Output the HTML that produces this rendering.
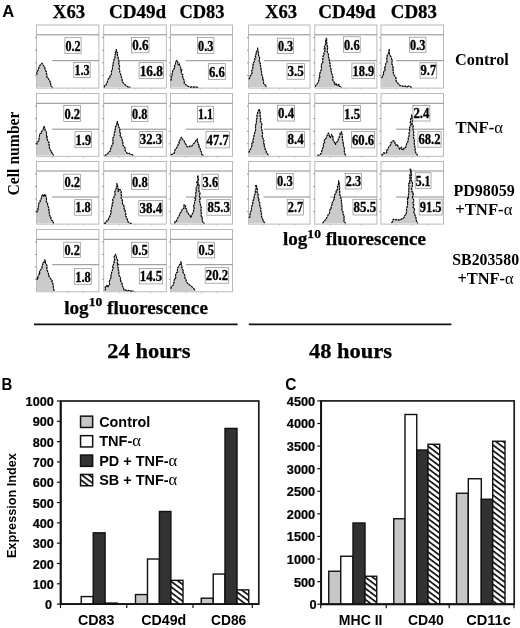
<!DOCTYPE html>
<html><head><meta charset="utf-8"><title>Figure</title>
<style>html,body{margin:0;padding:0;background:#fff;}body{width:520px;height:628px;overflow:hidden;font-family:"Liberation Sans",sans-serif;}</style></head>
<body>
<svg width="520" height="628" viewBox="0 0 520 628" style="display:block;will-change:transform;opacity:0.999">
<rect width="520" height="628" fill="#fff"/>
<defs><pattern id="hz" patternUnits="userSpaceOnUse" width="4.45" height="4.45" patternTransform="rotate(37)"><rect width="4.45" height="4.45" fill="#fff"/><rect x="0" y="0" width="4.45" height="1.7" fill="#111"/></pattern></defs>
<text x="2.20" y="17.10" font-family="Liberation Sans, sans-serif" font-weight="bold" font-size="16.5" textLength="12.00" lengthAdjust="spacingAndGlyphs" fill="#000" >A</text>
<text x="52.80" y="17.80" font-family="Liberation Serif, serif" font-weight="bold" font-size="18.6" textLength="32.40" lengthAdjust="spacingAndGlyphs" fill="#000" stroke="#000" stroke-width="0.25">X63</text>
<text x="109.00" y="17.80" font-family="Liberation Serif, serif" font-weight="bold" font-size="18.6" textLength="57.20" lengthAdjust="spacingAndGlyphs" fill="#000" stroke="#000" stroke-width="0.25">CD49d</text>
<text x="179.40" y="17.80" font-family="Liberation Serif, serif" font-weight="bold" font-size="18.6" textLength="45.20" lengthAdjust="spacingAndGlyphs" fill="#000" stroke="#000" stroke-width="0.25">CD83</text>
<text x="265.00" y="17.80" font-family="Liberation Serif, serif" font-weight="bold" font-size="18.6" textLength="32.20" lengthAdjust="spacingAndGlyphs" fill="#000" stroke="#000" stroke-width="0.25">X63</text>
<text x="318.30" y="17.80" font-family="Liberation Serif, serif" font-weight="bold" font-size="18.6" textLength="57.30" lengthAdjust="spacingAndGlyphs" fill="#000" stroke="#000" stroke-width="0.25">CD49d</text>
<text x="390.80" y="17.80" font-family="Liberation Serif, serif" font-weight="bold" font-size="18.6" textLength="46.20" lengthAdjust="spacingAndGlyphs" fill="#000" stroke="#000" stroke-width="0.25">CD83</text>
<g transform="translate(19,195.5) rotate(-90)">
<text x="0.00" y="0.00" font-family="Liberation Serif, serif" font-weight="bold" font-size="16.3" textLength="84.00" lengthAdjust="spacingAndGlyphs" fill="#000" >Cell number</text>
</g>
<rect x="36.60" y="25.00" width="62.30" height="63.10" fill="#fff" stroke="#b2b2b2" stroke-width="0.9"/>
<line x1="35.00" y1="75.48" x2="36.60" y2="75.48" stroke="#8a8a8a" stroke-width="0.9"/>
<line x1="35.00" y1="62.86" x2="36.60" y2="62.86" stroke="#8a8a8a" stroke-width="0.9"/>
<line x1="35.00" y1="50.24" x2="36.60" y2="50.24" stroke="#8a8a8a" stroke-width="0.9"/>
<line x1="35.00" y1="37.62" x2="36.60" y2="37.62" stroke="#8a8a8a" stroke-width="0.9"/>
<line x1="52.17" y1="88.10" x2="52.17" y2="89.60" stroke="#b2b2b2" stroke-width="0.8"/>
<line x1="67.75" y1="88.10" x2="67.75" y2="89.60" stroke="#b2b2b2" stroke-width="0.8"/>
<line x1="83.32" y1="88.10" x2="83.32" y2="89.60" stroke="#b2b2b2" stroke-width="0.8"/>
<line x1="36.60" y1="34.80" x2="98.90" y2="34.80" stroke="#808080" stroke-width="0.9"/>
<line x1="52.30" y1="60.70" x2="98.90" y2="60.70" stroke="#808080" stroke-width="0.9"/>
<path d="M36.9,87.3 L36.9,74.5 L36.8,72.8 L37.1,72.1 L37.9,70.4 L38.5,69.0 L39.2,66.8 L39.7,65.4 L40.5,65.0 L42.0,63.2 L42.2,63.5 L43.5,65.5 L44.7,67.1 L45.0,69.0 L45.1,69.7 L46.6,72.3 L46.4,73.7 L47.0,75.0 L46.9,77.2 L47.7,78.2 L48.0,78.0 L49.0,80.0 L49.9,81.0 L50.1,82.0 L50.5,84.0 L51.0,85.4 L51.2,86.4 L52.5,87.3 L52.5,87.3 Z" fill="#cbcbcb" stroke="none"/>
<path d="M36.9,74.5 L36.8,72.8 L37.1,72.1 L37.9,70.4 L38.5,69.0 L39.2,66.8 L39.7,65.4 L40.5,65.0 L42.0,63.2 L42.2,63.5 L43.5,65.5 L44.7,67.1 L45.0,69.0 L45.1,69.7 L46.6,72.3 L46.4,73.7 L47.0,75.0 L46.9,77.2 L47.7,78.2 L48.0,78.0 L49.0,80.0 L49.9,81.0 L50.1,82.0 L50.5,84.0 L51.0,85.4 L51.2,86.4 L52.5,87.3" fill="none" stroke="#555" stroke-width="0.8" stroke-linejoin="round"/>
<path d="M36.9,74.5 L36.8,72.8 L37.1,72.1 L37.9,70.4 L38.5,69.0 L39.2,66.8 L39.7,65.4 L40.5,65.0 L42.0,63.2 L42.2,63.5 L43.5,65.5 L44.7,67.1 L45.0,69.0 L45.1,69.7 L46.6,72.3 L46.4,73.7 L47.0,75.0 L46.9,77.2 L47.7,78.2 L48.0,78.0 L49.0,80.0 L49.9,81.0 L50.1,82.0 L50.5,84.0 L51.0,85.4 L51.2,86.4 L52.5,87.3" fill="none" stroke="#000" stroke-width="1.1" stroke-linejoin="round" stroke-dasharray="2.0 1.0"/>
<rect x="64.90" y="37.70" width="16.20" height="15.60" fill="#fff" stroke="#8a8a8a" stroke-width="0.7"/>
<text x="65.50" y="50.50" font-family="Liberation Serif, serif" font-weight="bold" font-size="14.8" textLength="15.10" lengthAdjust="spacingAndGlyphs" fill="#000" stroke="#000" stroke-width="0.35">0.2</text>
<rect x="73.80" y="62.60" width="16.30" height="15.00" fill="#fff" stroke="#8a8a8a" stroke-width="0.7"/>
<text x="74.40" y="74.80" font-family="Liberation Serif, serif" font-weight="bold" font-size="14.8" textLength="15.20" lengthAdjust="spacingAndGlyphs" fill="#000" stroke="#000" stroke-width="0.35">1.3</text>
<rect x="103.70" y="25.00" width="62.60" height="63.10" fill="#fff" stroke="#b2b2b2" stroke-width="0.9"/>
<line x1="102.10" y1="75.48" x2="103.70" y2="75.48" stroke="#8a8a8a" stroke-width="0.9"/>
<line x1="102.10" y1="62.86" x2="103.70" y2="62.86" stroke="#8a8a8a" stroke-width="0.9"/>
<line x1="102.10" y1="50.24" x2="103.70" y2="50.24" stroke="#8a8a8a" stroke-width="0.9"/>
<line x1="102.10" y1="37.62" x2="103.70" y2="37.62" stroke="#8a8a8a" stroke-width="0.9"/>
<line x1="119.35" y1="88.10" x2="119.35" y2="89.60" stroke="#b2b2b2" stroke-width="0.8"/>
<line x1="135.00" y1="88.10" x2="135.00" y2="89.60" stroke="#b2b2b2" stroke-width="0.8"/>
<line x1="150.65" y1="88.10" x2="150.65" y2="89.60" stroke="#b2b2b2" stroke-width="0.8"/>
<line x1="103.70" y1="34.80" x2="166.30" y2="34.80" stroke="#808080" stroke-width="0.9"/>
<line x1="119.60" y1="60.70" x2="166.30" y2="60.70" stroke="#808080" stroke-width="0.9"/>
<path d="M104.3,87.3 L104.3,87.3 L104.7,85.3 L106.0,85.0 L106.6,83.8 L107.5,81.4 L108.0,80.2 L108.4,78.8 L109.6,78.1 L110.1,75.7 L111.2,74.9 L111.4,73.5 L111.4,72.5 L111.4,71.6 L112.5,69.0 L112.4,67.1 L112.9,65.4 L113.1,65.4 L113.0,64.2 L113.5,62.0 L113.9,61.0 L114.0,59.4 L115.0,58.5 L114.9,56.4 L115.3,54.2 L116.0,54.0 L115.3,52.9 L116.1,50.7 L116.2,49.5 L116.5,49.9 L116.3,51.6 L117.6,52.7 L117.5,55.0 L117.4,55.7 L118.4,57.6 L118.1,58.4 L118.9,60.8 L119.1,62.8 L118.7,63.1 L119.0,65.0 L119.7,66.1 L118.9,68.7 L119.2,68.6 L119.8,70.1 L119.7,72.3 L120.2,73.5 L120.5,73.8 L121.1,75.9 L121.7,78.4 L122.0,78.9 L122.2,80.2 L122.5,82.2 L124.0,83.5 L125.5,85.3 L126.2,85.6 L128.0,87.0 L128.8,86.7 L130.3,87.3 L130.3,87.3 Z" fill="#cbcbcb" stroke="none"/>
<path d="M104.3,87.3 L104.7,85.3 L106.0,85.0 L106.6,83.8 L107.5,81.4 L108.0,80.2 L108.4,78.8 L109.6,78.1 L110.1,75.7 L111.2,74.9 L111.4,73.5 L111.4,72.5 L111.4,71.6 L112.5,69.0 L112.4,67.1 L112.9,65.4 L113.1,65.4 L113.0,64.2 L113.5,62.0 L113.9,61.0 L114.0,59.4 L115.0,58.5 L114.9,56.4 L115.3,54.2 L116.0,54.0 L115.3,52.9 L116.1,50.7 L116.2,49.5 L116.5,49.9 L116.3,51.6 L117.6,52.7 L117.5,55.0 L117.4,55.7 L118.4,57.6 L118.1,58.4 L118.9,60.8 L119.1,62.8 L118.7,63.1 L119.0,65.0 L119.7,66.1 L118.9,68.7 L119.2,68.6 L119.8,70.1 L119.7,72.3 L120.2,73.5 L120.5,73.8 L121.1,75.9 L121.7,78.4 L122.0,78.9 L122.2,80.2 L122.5,82.2 L124.0,83.5 L125.5,85.3 L126.2,85.6 L128.0,87.0 L128.8,86.7 L130.3,87.3" fill="none" stroke="#555" stroke-width="0.8" stroke-linejoin="round"/>
<path d="M104.3,87.3 L104.7,85.3 L106.0,85.0 L106.6,83.8 L107.5,81.4 L108.0,80.2 L108.4,78.8 L109.6,78.1 L110.1,75.7 L111.2,74.9 L111.4,73.5 L111.4,72.5 L111.4,71.6 L112.5,69.0 L112.4,67.1 L112.9,65.4 L113.1,65.4 L113.0,64.2 L113.5,62.0 L113.9,61.0 L114.0,59.4 L115.0,58.5 L114.9,56.4 L115.3,54.2 L116.0,54.0 L115.3,52.9 L116.1,50.7 L116.2,49.5 L116.5,49.9 L116.3,51.6 L117.6,52.7 L117.5,55.0 L117.4,55.7 L118.4,57.6 L118.1,58.4 L118.9,60.8 L119.1,62.8 L118.7,63.1 L119.0,65.0 L119.7,66.1 L118.9,68.7 L119.2,68.6 L119.8,70.1 L119.7,72.3 L120.2,73.5 L120.5,73.8 L121.1,75.9 L121.7,78.4 L122.0,78.9 L122.2,80.2 L122.5,82.2 L124.0,83.5 L125.5,85.3 L126.2,85.6 L128.0,87.0 L128.8,86.7 L130.3,87.3" fill="none" stroke="#000" stroke-width="1.1" stroke-linejoin="round" stroke-dasharray="2.0 1.0"/>
<rect x="131.60" y="37.60" width="17.40" height="15.20" fill="#fff" stroke="#8a8a8a" stroke-width="0.7"/>
<text x="132.20" y="50.00" font-family="Liberation Serif, serif" font-weight="bold" font-size="14.8" textLength="16.30" lengthAdjust="spacingAndGlyphs" fill="#000" stroke="#000" stroke-width="0.35">0.6</text>
<rect x="139.10" y="62.70" width="24.30" height="15.80" fill="#fff" stroke="#8a8a8a" stroke-width="0.7"/>
<text x="139.70" y="75.70" font-family="Liberation Serif, serif" font-weight="bold" font-size="14.8" textLength="23.20" lengthAdjust="spacingAndGlyphs" fill="#000" stroke="#000" stroke-width="0.35">16.8</text>
<rect x="170.50" y="25.00" width="62.00" height="63.10" fill="#fff" stroke="#b2b2b2" stroke-width="0.9"/>
<line x1="168.90" y1="75.48" x2="170.50" y2="75.48" stroke="#8a8a8a" stroke-width="0.9"/>
<line x1="168.90" y1="62.86" x2="170.50" y2="62.86" stroke="#8a8a8a" stroke-width="0.9"/>
<line x1="168.90" y1="50.24" x2="170.50" y2="50.24" stroke="#8a8a8a" stroke-width="0.9"/>
<line x1="168.90" y1="37.62" x2="170.50" y2="37.62" stroke="#8a8a8a" stroke-width="0.9"/>
<line x1="186.00" y1="88.10" x2="186.00" y2="89.60" stroke="#b2b2b2" stroke-width="0.8"/>
<line x1="201.50" y1="88.10" x2="201.50" y2="89.60" stroke="#b2b2b2" stroke-width="0.8"/>
<line x1="217.00" y1="88.10" x2="217.00" y2="89.60" stroke="#b2b2b2" stroke-width="0.8"/>
<line x1="170.50" y1="34.80" x2="232.50" y2="34.80" stroke="#808080" stroke-width="0.9"/>
<line x1="185.70" y1="60.70" x2="232.50" y2="60.70" stroke="#808080" stroke-width="0.9"/>
<path d="M170.9,87.3 L170.9,80.6 L171.5,78.3 L171.2,76.7 L172.2,76.0 L172.1,74.0 L172.3,72.9 L172.8,70.8 L173.4,69.6 L174.0,69.0 L174.9,66.8 L174.3,66.7 L174.9,64.8 L175.5,64.0 L175.6,61.9 L176.8,60.4 L178.0,62.6 L177.7,63.4 L178.2,65.0 L179.5,63.5 L179.4,64.2 L180.0,66.2 L180.8,68.0 L180.6,70.0 L182.0,69.7 L181.2,72.1 L181.3,73.4 L182.9,74.7 L182.5,76.0 L183.1,78.2 L183.0,78.4 L183.9,79.7 L184.3,81.9 L184.2,83.3 L185.2,84.2 L187.0,85.8 L189.3,86.8 L190.8,87.2 L192.0,86.8 L193.9,87.3 L195.2,86.7 L196.1,87.1 L198.3,87.3 L198.3,87.3 Z" fill="#cbcbcb" stroke="none"/>
<path d="M170.9,80.6 L171.5,78.3 L171.2,76.7 L172.2,76.0 L172.1,74.0 L172.3,72.9 L172.8,70.8 L173.4,69.6 L174.0,69.0 L174.9,66.8 L174.3,66.7 L174.9,64.8 L175.5,64.0 L175.6,61.9 L176.8,60.4 L178.0,62.6 L177.7,63.4 L178.2,65.0 L179.5,63.5 L179.4,64.2 L180.0,66.2 L180.8,68.0 L180.6,70.0 L182.0,69.7 L181.2,72.1 L181.3,73.4 L182.9,74.7 L182.5,76.0 L183.1,78.2 L183.0,78.4 L183.9,79.7 L184.3,81.9 L184.2,83.3 L185.2,84.2 L187.0,85.8 L189.3,86.8 L190.8,87.2 L192.0,86.8 L193.9,87.3 L195.2,86.7 L196.1,87.1 L198.3,87.3" fill="none" stroke="#555" stroke-width="0.8" stroke-linejoin="round"/>
<path d="M170.9,80.6 L171.5,78.3 L171.2,76.7 L172.2,76.0 L172.1,74.0 L172.3,72.9 L172.8,70.8 L173.4,69.6 L174.0,69.0 L174.9,66.8 L174.3,66.7 L174.9,64.8 L175.5,64.0 L175.6,61.9 L176.8,60.4 L178.0,62.6 L177.7,63.4 L178.2,65.0 L179.5,63.5 L179.4,64.2 L180.0,66.2 L180.8,68.0 L180.6,70.0 L182.0,69.7 L181.2,72.1 L181.3,73.4 L182.9,74.7 L182.5,76.0 L183.1,78.2 L183.0,78.4 L183.9,79.7 L184.3,81.9 L184.2,83.3 L185.2,84.2 L187.0,85.8 L189.3,86.8 L190.8,87.2 L192.0,86.8 L193.9,87.3 L195.2,86.7 L196.1,87.1 L198.3,87.3" fill="none" stroke="#000" stroke-width="1.1" stroke-linejoin="round" stroke-dasharray="2.0 1.0"/>
<rect x="197.50" y="37.50" width="16.40" height="16.00" fill="#fff" stroke="#8a8a8a" stroke-width="0.7"/>
<text x="198.10" y="50.70" font-family="Liberation Serif, serif" font-weight="bold" font-size="14.8" textLength="15.30" lengthAdjust="spacingAndGlyphs" fill="#000" stroke="#000" stroke-width="0.35">0.3</text>
<rect x="208.30" y="63.70" width="17.00" height="15.90" fill="#fff" stroke="#8a8a8a" stroke-width="0.7"/>
<text x="208.90" y="76.80" font-family="Liberation Serif, serif" font-weight="bold" font-size="14.8" textLength="15.90" lengthAdjust="spacingAndGlyphs" fill="#000" stroke="#000" stroke-width="0.35">6.6</text>
<rect x="36.60" y="93.50" width="62.30" height="62.80" fill="#fff" stroke="#b2b2b2" stroke-width="0.9"/>
<line x1="35.00" y1="143.74" x2="36.60" y2="143.74" stroke="#8a8a8a" stroke-width="0.9"/>
<line x1="35.00" y1="131.18" x2="36.60" y2="131.18" stroke="#8a8a8a" stroke-width="0.9"/>
<line x1="35.00" y1="118.62" x2="36.60" y2="118.62" stroke="#8a8a8a" stroke-width="0.9"/>
<line x1="35.00" y1="106.06" x2="36.60" y2="106.06" stroke="#8a8a8a" stroke-width="0.9"/>
<line x1="52.17" y1="156.30" x2="52.17" y2="157.80" stroke="#b2b2b2" stroke-width="0.8"/>
<line x1="67.75" y1="156.30" x2="67.75" y2="157.80" stroke="#b2b2b2" stroke-width="0.8"/>
<line x1="83.32" y1="156.30" x2="83.32" y2="157.80" stroke="#b2b2b2" stroke-width="0.8"/>
<line x1="36.60" y1="103.30" x2="98.90" y2="103.30" stroke="#808080" stroke-width="0.9"/>
<line x1="52.20" y1="129.20" x2="98.90" y2="129.20" stroke="#808080" stroke-width="0.9"/>
<path d="M36.9,155.5 L36.9,144.5 L37.0,142.3 L38.0,141.4 L38.1,141.5 L39.3,140.2 L39.0,138.0 L39.3,137.6 L39.6,134.8 L40.1,133.5 L41.6,133.0 L41.5,131.5 L42.1,130.9 L43.2,129.3 L43.7,126.8 L44.1,126.4 L45.0,128.8 L45.0,130.0 L45.5,131.0 L46.2,131.7 L46.6,133.3 L46.4,135.9 L47.5,136.1 L46.7,138.1 L47.5,139.0 L47.3,139.6 L48.6,142.5 L49.0,142.3 L49.1,145.3 L49.2,145.4 L49.5,147.0 L49.3,147.6 L50.7,150.7 L51.6,151.2 L51.5,152.5 L53.0,153.9 L53.5,155.5 L53.5,155.5 Z" fill="#cbcbcb" stroke="none"/>
<path d="M36.9,144.5 L37.0,142.3 L38.0,141.4 L38.1,141.5 L39.3,140.2 L39.0,138.0 L39.3,137.6 L39.6,134.8 L40.1,133.5 L41.6,133.0 L41.5,131.5 L42.1,130.9 L43.2,129.3 L43.7,126.8 L44.1,126.4 L45.0,128.8 L45.0,130.0 L45.5,131.0 L46.2,131.7 L46.6,133.3 L46.4,135.9 L47.5,136.1 L46.7,138.1 L47.5,139.0 L47.3,139.6 L48.6,142.5 L49.0,142.3 L49.1,145.3 L49.2,145.4 L49.5,147.0 L49.3,147.6 L50.7,150.7 L51.6,151.2 L51.5,152.5 L53.0,153.9 L53.5,155.5" fill="none" stroke="#555" stroke-width="0.8" stroke-linejoin="round"/>
<path d="M36.9,144.5 L37.0,142.3 L38.0,141.4 L38.1,141.5 L39.3,140.2 L39.0,138.0 L39.3,137.6 L39.6,134.8 L40.1,133.5 L41.6,133.0 L41.5,131.5 L42.1,130.9 L43.2,129.3 L43.7,126.8 L44.1,126.4 L45.0,128.8 L45.0,130.0 L45.5,131.0 L46.2,131.7 L46.6,133.3 L46.4,135.9 L47.5,136.1 L46.7,138.1 L47.5,139.0 L47.3,139.6 L48.6,142.5 L49.0,142.3 L49.1,145.3 L49.2,145.4 L49.5,147.0 L49.3,147.6 L50.7,150.7 L51.6,151.2 L51.5,152.5 L53.0,153.9 L53.5,155.5" fill="none" stroke="#000" stroke-width="1.1" stroke-linejoin="round" stroke-dasharray="2.0 1.0"/>
<rect x="63.80" y="105.50" width="16.80" height="15.90" fill="#fff" stroke="#8a8a8a" stroke-width="0.7"/>
<text x="64.40" y="118.60" font-family="Liberation Serif, serif" font-weight="bold" font-size="14.8" textLength="15.70" lengthAdjust="spacingAndGlyphs" fill="#000" stroke="#000" stroke-width="0.35">0.2</text>
<rect x="75.00" y="131.70" width="16.60" height="16.00" fill="#fff" stroke="#8a8a8a" stroke-width="0.7"/>
<text x="75.60" y="144.90" font-family="Liberation Serif, serif" font-weight="bold" font-size="14.8" textLength="15.50" lengthAdjust="spacingAndGlyphs" fill="#000" stroke="#000" stroke-width="0.35">1.9</text>
<rect x="103.70" y="93.50" width="62.60" height="62.80" fill="#fff" stroke="#b2b2b2" stroke-width="0.9"/>
<line x1="102.10" y1="143.74" x2="103.70" y2="143.74" stroke="#8a8a8a" stroke-width="0.9"/>
<line x1="102.10" y1="131.18" x2="103.70" y2="131.18" stroke="#8a8a8a" stroke-width="0.9"/>
<line x1="102.10" y1="118.62" x2="103.70" y2="118.62" stroke="#8a8a8a" stroke-width="0.9"/>
<line x1="102.10" y1="106.06" x2="103.70" y2="106.06" stroke="#8a8a8a" stroke-width="0.9"/>
<line x1="119.35" y1="156.30" x2="119.35" y2="157.80" stroke="#b2b2b2" stroke-width="0.8"/>
<line x1="135.00" y1="156.30" x2="135.00" y2="157.80" stroke="#b2b2b2" stroke-width="0.8"/>
<line x1="150.65" y1="156.30" x2="150.65" y2="157.80" stroke="#b2b2b2" stroke-width="0.8"/>
<line x1="103.70" y1="103.30" x2="166.30" y2="103.30" stroke="#808080" stroke-width="0.9"/>
<line x1="118.80" y1="129.20" x2="166.30" y2="129.20" stroke="#808080" stroke-width="0.9"/>
<path d="M104.7,155.5 L104.7,155.5 L107.0,154.5 L107.6,154.1 L108.8,151.9 L110.1,151.3 L110.6,149.4 L110.8,148.1 L111.8,146.5 L111.6,145.6 L112.6,144.7 L113.0,143.0 L112.8,141.8 L113.1,140.5 L112.6,139.2 L113.1,137.7 L114.2,135.6 L114.0,134.6 L114.3,134.4 L114.5,132.3 L115.2,131.4 L115.0,130.0 L115.5,127.8 L115.4,126.6 L116.1,126.2 L116.8,124.4 L116.8,123.7 L117.2,121.4 L117.6,123.2 L118.3,124.5 L118.5,126.0 L118.8,127.2 L119.7,128.5 L119.9,130.2 L119.3,132.0 L119.9,132.4 L120.8,133.9 L120.0,135.8 L120.8,135.7 L120.9,136.9 L121.8,138.3 L122.4,141.0 L122.2,141.8 L123.0,142.4 L122.6,144.7 L124.2,146.5 L124.0,147.0 L125.2,147.9 L125.0,149.7 L125.6,151.3 L127.3,153.4 L128.0,153.5 L129.3,153.3 L130.6,154.6 L131.9,154.5 L133.6,155.5 L133.6,155.5 Z" fill="#cbcbcb" stroke="none"/>
<path d="M104.7,155.5 L107.0,154.5 L107.6,154.1 L108.8,151.9 L110.1,151.3 L110.6,149.4 L110.8,148.1 L111.8,146.5 L111.6,145.6 L112.6,144.7 L113.0,143.0 L112.8,141.8 L113.1,140.5 L112.6,139.2 L113.1,137.7 L114.2,135.6 L114.0,134.6 L114.3,134.4 L114.5,132.3 L115.2,131.4 L115.0,130.0 L115.5,127.8 L115.4,126.6 L116.1,126.2 L116.8,124.4 L116.8,123.7 L117.2,121.4 L117.6,123.2 L118.3,124.5 L118.5,126.0 L118.8,127.2 L119.7,128.5 L119.9,130.2 L119.3,132.0 L119.9,132.4 L120.8,133.9 L120.0,135.8 L120.8,135.7 L120.9,136.9 L121.8,138.3 L122.4,141.0 L122.2,141.8 L123.0,142.4 L122.6,144.7 L124.2,146.5 L124.0,147.0 L125.2,147.9 L125.0,149.7 L125.6,151.3 L127.3,153.4 L128.0,153.5 L129.3,153.3 L130.6,154.6 L131.9,154.5 L133.6,155.5" fill="none" stroke="#555" stroke-width="0.8" stroke-linejoin="round"/>
<path d="M104.7,155.5 L107.0,154.5 L107.6,154.1 L108.8,151.9 L110.1,151.3 L110.6,149.4 L110.8,148.1 L111.8,146.5 L111.6,145.6 L112.6,144.7 L113.0,143.0 L112.8,141.8 L113.1,140.5 L112.6,139.2 L113.1,137.7 L114.2,135.6 L114.0,134.6 L114.3,134.4 L114.5,132.3 L115.2,131.4 L115.0,130.0 L115.5,127.8 L115.4,126.6 L116.1,126.2 L116.8,124.4 L116.8,123.7 L117.2,121.4 L117.6,123.2 L118.3,124.5 L118.5,126.0 L118.8,127.2 L119.7,128.5 L119.9,130.2 L119.3,132.0 L119.9,132.4 L120.8,133.9 L120.0,135.8 L120.8,135.7 L120.9,136.9 L121.8,138.3 L122.4,141.0 L122.2,141.8 L123.0,142.4 L122.6,144.7 L124.2,146.5 L124.0,147.0 L125.2,147.9 L125.0,149.7 L125.6,151.3 L127.3,153.4 L128.0,153.5 L129.3,153.3 L130.6,154.6 L131.9,154.5 L133.6,155.5" fill="none" stroke="#000" stroke-width="1.1" stroke-linejoin="round" stroke-dasharray="2.0 1.0"/>
<rect x="131.50" y="106.20" width="16.40" height="15.40" fill="#fff" stroke="#8a8a8a" stroke-width="0.7"/>
<text x="132.10" y="118.80" font-family="Liberation Serif, serif" font-weight="bold" font-size="14.8" textLength="15.30" lengthAdjust="spacingAndGlyphs" fill="#000" stroke="#000" stroke-width="0.35">0.8</text>
<rect x="139.20" y="131.70" width="23.50" height="15.50" fill="#fff" stroke="#8a8a8a" stroke-width="0.7"/>
<text x="139.80" y="144.40" font-family="Liberation Serif, serif" font-weight="bold" font-size="14.8" textLength="22.40" lengthAdjust="spacingAndGlyphs" fill="#000" stroke="#000" stroke-width="0.35">32.3</text>
<rect x="170.50" y="93.50" width="62.00" height="62.80" fill="#fff" stroke="#b2b2b2" stroke-width="0.9"/>
<line x1="168.90" y1="143.74" x2="170.50" y2="143.74" stroke="#8a8a8a" stroke-width="0.9"/>
<line x1="168.90" y1="131.18" x2="170.50" y2="131.18" stroke="#8a8a8a" stroke-width="0.9"/>
<line x1="168.90" y1="118.62" x2="170.50" y2="118.62" stroke="#8a8a8a" stroke-width="0.9"/>
<line x1="168.90" y1="106.06" x2="170.50" y2="106.06" stroke="#8a8a8a" stroke-width="0.9"/>
<line x1="186.00" y1="156.30" x2="186.00" y2="157.80" stroke="#b2b2b2" stroke-width="0.8"/>
<line x1="201.50" y1="156.30" x2="201.50" y2="157.80" stroke="#b2b2b2" stroke-width="0.8"/>
<line x1="217.00" y1="156.30" x2="217.00" y2="157.80" stroke="#b2b2b2" stroke-width="0.8"/>
<line x1="170.50" y1="103.30" x2="232.50" y2="103.30" stroke="#808080" stroke-width="0.9"/>
<line x1="185.90" y1="129.20" x2="232.50" y2="129.20" stroke="#808080" stroke-width="0.9"/>
<path d="M170.9,155.5 L170.9,154.6 L171.8,154.4 L174.1,153.3 L174.6,152.0 L175.1,149.5 L176.0,149.0 L176.7,147.7 L178.1,145.1 L178.1,144.5 L179.3,143.7 L178.9,141.0 L179.8,140.5 L181.0,137.9 L181.5,137.1 L181.7,138.1 L183.0,140.0 L184.5,141.4 L184.8,143.2 L186.5,145.0 L187.0,146.7 L188.2,147.2 L190.0,146.0 L191.6,146.5 L193.0,144.5 L193.2,144.0 L194.9,142.5 L196.0,140.5 L197.2,138.9 L197.8,140.4 L197.2,140.8 L198.2,143.0 L198.4,144.8 L199.3,144.9 L199.0,147.2 L199.9,148.7 L200.4,148.9 L200.3,151.0 L201.5,151.9 L201.7,154.6 L203.7,155.5 L203.7,155.5 Z" fill="#cbcbcb" stroke="none"/>
<path d="M170.9,154.6 L171.8,154.4 L174.1,153.3 L174.6,152.0 L175.1,149.5 L176.0,149.0 L176.7,147.7 L178.1,145.1 L178.1,144.5 L179.3,143.7 L178.9,141.0 L179.8,140.5 L181.0,137.9 L181.5,137.1 L181.7,138.1 L183.0,140.0 L184.5,141.4 L184.8,143.2 L186.5,145.0 L187.0,146.7 L188.2,147.2 L190.0,146.0 L191.6,146.5 L193.0,144.5 L193.2,144.0 L194.9,142.5 L196.0,140.5 L197.2,138.9 L197.8,140.4 L197.2,140.8 L198.2,143.0 L198.4,144.8 L199.3,144.9 L199.0,147.2 L199.9,148.7 L200.4,148.9 L200.3,151.0 L201.5,151.9 L201.7,154.6 L203.7,155.5" fill="none" stroke="#555" stroke-width="0.8" stroke-linejoin="round"/>
<path d="M170.9,154.6 L171.8,154.4 L174.1,153.3 L174.6,152.0 L175.1,149.5 L176.0,149.0 L176.7,147.7 L178.1,145.1 L178.1,144.5 L179.3,143.7 L178.9,141.0 L179.8,140.5 L181.0,137.9 L181.5,137.1 L181.7,138.1 L183.0,140.0 L184.5,141.4 L184.8,143.2 L186.5,145.0 L187.0,146.7 L188.2,147.2 L190.0,146.0 L191.6,146.5 L193.0,144.5 L193.2,144.0 L194.9,142.5 L196.0,140.5 L197.2,138.9 L197.8,140.4 L197.2,140.8 L198.2,143.0 L198.4,144.8 L199.3,144.9 L199.0,147.2 L199.9,148.7 L200.4,148.9 L200.3,151.0 L201.5,151.9 L201.7,154.6 L203.7,155.5" fill="none" stroke="#000" stroke-width="1.1" stroke-linejoin="round" stroke-dasharray="2.0 1.0"/>
<rect x="197.50" y="106.20" width="16.00" height="15.70" fill="#fff" stroke="#8a8a8a" stroke-width="0.7"/>
<text x="198.10" y="119.10" font-family="Liberation Serif, serif" font-weight="bold" font-size="14.8" textLength="14.90" lengthAdjust="spacingAndGlyphs" fill="#000" stroke="#000" stroke-width="0.35">1.1</text>
<rect x="206.00" y="131.70" width="23.40" height="16.20" fill="#fff" stroke="#8a8a8a" stroke-width="0.7"/>
<text x="206.60" y="145.10" font-family="Liberation Serif, serif" font-weight="bold" font-size="14.8" textLength="22.30" lengthAdjust="spacingAndGlyphs" fill="#000" stroke="#000" stroke-width="0.35">47.7</text>
<rect x="36.60" y="161.50" width="62.30" height="62.60" fill="#fff" stroke="#b2b2b2" stroke-width="0.9"/>
<line x1="35.00" y1="211.58" x2="36.60" y2="211.58" stroke="#8a8a8a" stroke-width="0.9"/>
<line x1="35.00" y1="199.06" x2="36.60" y2="199.06" stroke="#8a8a8a" stroke-width="0.9"/>
<line x1="35.00" y1="186.54" x2="36.60" y2="186.54" stroke="#8a8a8a" stroke-width="0.9"/>
<line x1="35.00" y1="174.02" x2="36.60" y2="174.02" stroke="#8a8a8a" stroke-width="0.9"/>
<line x1="52.17" y1="224.10" x2="52.17" y2="225.60" stroke="#b2b2b2" stroke-width="0.8"/>
<line x1="67.75" y1="224.10" x2="67.75" y2="225.60" stroke="#b2b2b2" stroke-width="0.8"/>
<line x1="83.32" y1="224.10" x2="83.32" y2="225.60" stroke="#b2b2b2" stroke-width="0.8"/>
<line x1="36.60" y1="171.00" x2="98.90" y2="171.00" stroke="#808080" stroke-width="0.9"/>
<line x1="52.20" y1="197.00" x2="98.90" y2="197.00" stroke="#808080" stroke-width="0.9"/>
<path d="M37.0,223.3 L37.0,212.5 L37.1,211.0 L38.3,209.9 L37.6,207.9 L38.5,207.0 L38.5,205.8 L38.8,203.6 L39.3,202.2 L40.1,201.8 L40.3,200.2 L40.7,199.8 L41.5,198.0 L41.7,196.2 L42.8,194.4 L42.8,195.3 L44.1,196.8 L44.1,195.1 L45.5,194.4 L45.9,196.4 L46.1,196.8 L46.5,199.0 L46.2,201.2 L46.9,202.4 L47.7,203.1 L47.5,204.5 L47.8,205.8 L48.8,207.9 L48.9,208.7 L48.8,210.5 L49.3,212.4 L49.3,213.4 L49.3,214.2 L50.2,216.6 L51.1,217.0 L50.8,218.7 L51.8,220.5 L53.1,221.2 L53.5,223.3 L53.5,223.3 Z" fill="#cbcbcb" stroke="none"/>
<path d="M37.0,212.5 L37.1,211.0 L38.3,209.9 L37.6,207.9 L38.5,207.0 L38.5,205.8 L38.8,203.6 L39.3,202.2 L40.1,201.8 L40.3,200.2 L40.7,199.8 L41.5,198.0 L41.7,196.2 L42.8,194.4 L42.8,195.3 L44.1,196.8 L44.1,195.1 L45.5,194.4 L45.9,196.4 L46.1,196.8 L46.5,199.0 L46.2,201.2 L46.9,202.4 L47.7,203.1 L47.5,204.5 L47.8,205.8 L48.8,207.9 L48.9,208.7 L48.8,210.5 L49.3,212.4 L49.3,213.4 L49.3,214.2 L50.2,216.6 L51.1,217.0 L50.8,218.7 L51.8,220.5 L53.1,221.2 L53.5,223.3" fill="none" stroke="#555" stroke-width="0.8" stroke-linejoin="round"/>
<path d="M37.0,212.5 L37.1,211.0 L38.3,209.9 L37.6,207.9 L38.5,207.0 L38.5,205.8 L38.8,203.6 L39.3,202.2 L40.1,201.8 L40.3,200.2 L40.7,199.8 L41.5,198.0 L41.7,196.2 L42.8,194.4 L42.8,195.3 L44.1,196.8 L44.1,195.1 L45.5,194.4 L45.9,196.4 L46.1,196.8 L46.5,199.0 L46.2,201.2 L46.9,202.4 L47.7,203.1 L47.5,204.5 L47.8,205.8 L48.8,207.9 L48.9,208.7 L48.8,210.5 L49.3,212.4 L49.3,213.4 L49.3,214.2 L50.2,216.6 L51.1,217.0 L50.8,218.7 L51.8,220.5 L53.1,221.2 L53.5,223.3" fill="none" stroke="#000" stroke-width="1.1" stroke-linejoin="round" stroke-dasharray="2.0 1.0"/>
<rect x="63.80" y="174.20" width="16.80" height="15.40" fill="#fff" stroke="#8a8a8a" stroke-width="0.7"/>
<text x="64.40" y="186.80" font-family="Liberation Serif, serif" font-weight="bold" font-size="14.8" textLength="15.70" lengthAdjust="spacingAndGlyphs" fill="#000" stroke="#000" stroke-width="0.35">0.2</text>
<rect x="74.70" y="199.70" width="16.60" height="15.50" fill="#fff" stroke="#8a8a8a" stroke-width="0.7"/>
<text x="75.30" y="212.40" font-family="Liberation Serif, serif" font-weight="bold" font-size="14.8" textLength="15.50" lengthAdjust="spacingAndGlyphs" fill="#000" stroke="#000" stroke-width="0.35">1.8</text>
<rect x="103.70" y="161.50" width="62.60" height="62.60" fill="#fff" stroke="#b2b2b2" stroke-width="0.9"/>
<line x1="102.10" y1="211.58" x2="103.70" y2="211.58" stroke="#8a8a8a" stroke-width="0.9"/>
<line x1="102.10" y1="199.06" x2="103.70" y2="199.06" stroke="#8a8a8a" stroke-width="0.9"/>
<line x1="102.10" y1="186.54" x2="103.70" y2="186.54" stroke="#8a8a8a" stroke-width="0.9"/>
<line x1="102.10" y1="174.02" x2="103.70" y2="174.02" stroke="#8a8a8a" stroke-width="0.9"/>
<line x1="119.35" y1="224.10" x2="119.35" y2="225.60" stroke="#b2b2b2" stroke-width="0.8"/>
<line x1="135.00" y1="224.10" x2="135.00" y2="225.60" stroke="#b2b2b2" stroke-width="0.8"/>
<line x1="150.65" y1="224.10" x2="150.65" y2="225.60" stroke="#b2b2b2" stroke-width="0.8"/>
<line x1="103.70" y1="171.00" x2="166.30" y2="171.00" stroke="#808080" stroke-width="0.9"/>
<line x1="122.20" y1="197.00" x2="166.30" y2="197.00" stroke="#808080" stroke-width="0.9"/>
<path d="M104.0,223.3 L104.0,223.3 L105.6,223.1 L106.4,221.1 L108.1,220.6 L108.5,218.9 L108.9,217.4 L110.0,216.3 L109.8,215.5 L110.3,215.0 L111.3,212.1 L110.8,210.8 L111.4,209.8 L111.5,207.4 L112.0,207.0 L112.2,205.1 L112.2,203.4 L112.8,203.0 L112.9,200.9 L112.7,199.4 L113.2,198.6 L113.9,197.9 L114.1,196.4 L114.6,195.6 L115.2,194.3 L114.7,192.3 L114.7,192.2 L115.5,190.0 L116.0,189.2 L116.5,186.5 L116.5,186.9 L117.0,185.3 L116.8,183.6 L117.1,184.2 L117.7,186.3 L118.0,188.3 L118.3,189.2 L118.2,190.7 L118.2,191.7 L118.5,190.1 L120.2,189.6 L120.3,190.2 L121.2,191.5 L121.1,193.8 L121.2,195.0 L121.7,196.6 L121.0,197.7 L122.3,199.6 L122.2,200.4 L122.6,201.7 L122.4,203.4 L123.1,204.9 L123.5,204.9 L124.2,207.1 L124.1,208.9 L125.4,210.3 L124.9,211.2 L125.6,212.5 L125.8,214.4 L125.3,215.5 L126.2,216.6 L126.5,217.6 L127.5,220.0 L127.9,221.8 L128.9,222.6 L129.6,223.3 L131.6,223.3 L131.6,223.3 Z" fill="#cbcbcb" stroke="none"/>
<path d="M104.0,223.3 L105.6,223.1 L106.4,221.1 L108.1,220.6 L108.5,218.9 L108.9,217.4 L110.0,216.3 L109.8,215.5 L110.3,215.0 L111.3,212.1 L110.8,210.8 L111.4,209.8 L111.5,207.4 L112.0,207.0 L112.2,205.1 L112.2,203.4 L112.8,203.0 L112.9,200.9 L112.7,199.4 L113.2,198.6 L113.9,197.9 L114.1,196.4 L114.6,195.6 L115.2,194.3 L114.7,192.3 L114.7,192.2 L115.5,190.0 L116.0,189.2 L116.5,186.5 L116.5,186.9 L117.0,185.3 L116.8,183.6 L117.1,184.2 L117.7,186.3 L118.0,188.3 L118.3,189.2 L118.2,190.7 L118.2,191.7 L118.5,190.1 L120.2,189.6 L120.3,190.2 L121.2,191.5 L121.1,193.8 L121.2,195.0 L121.7,196.6 L121.0,197.7 L122.3,199.6 L122.2,200.4 L122.6,201.7 L122.4,203.4 L123.1,204.9 L123.5,204.9 L124.2,207.1 L124.1,208.9 L125.4,210.3 L124.9,211.2 L125.6,212.5 L125.8,214.4 L125.3,215.5 L126.2,216.6 L126.5,217.6 L127.5,220.0 L127.9,221.8 L128.9,222.6 L129.6,223.3 L131.6,223.3" fill="none" stroke="#555" stroke-width="0.8" stroke-linejoin="round"/>
<path d="M104.0,223.3 L105.6,223.1 L106.4,221.1 L108.1,220.6 L108.5,218.9 L108.9,217.4 L110.0,216.3 L109.8,215.5 L110.3,215.0 L111.3,212.1 L110.8,210.8 L111.4,209.8 L111.5,207.4 L112.0,207.0 L112.2,205.1 L112.2,203.4 L112.8,203.0 L112.9,200.9 L112.7,199.4 L113.2,198.6 L113.9,197.9 L114.1,196.4 L114.6,195.6 L115.2,194.3 L114.7,192.3 L114.7,192.2 L115.5,190.0 L116.0,189.2 L116.5,186.5 L116.5,186.9 L117.0,185.3 L116.8,183.6 L117.1,184.2 L117.7,186.3 L118.0,188.3 L118.3,189.2 L118.2,190.7 L118.2,191.7 L118.5,190.1 L120.2,189.6 L120.3,190.2 L121.2,191.5 L121.1,193.8 L121.2,195.0 L121.7,196.6 L121.0,197.7 L122.3,199.6 L122.2,200.4 L122.6,201.7 L122.4,203.4 L123.1,204.9 L123.5,204.9 L124.2,207.1 L124.1,208.9 L125.4,210.3 L124.9,211.2 L125.6,212.5 L125.8,214.4 L125.3,215.5 L126.2,216.6 L126.5,217.6 L127.5,220.0 L127.9,221.8 L128.9,222.6 L129.6,223.3 L131.6,223.3" fill="none" stroke="#000" stroke-width="1.1" stroke-linejoin="round" stroke-dasharray="2.0 1.0"/>
<rect x="131.50" y="174.20" width="16.80" height="15.40" fill="#fff" stroke="#8a8a8a" stroke-width="0.7"/>
<text x="132.10" y="186.80" font-family="Liberation Serif, serif" font-weight="bold" font-size="14.8" textLength="15.70" lengthAdjust="spacingAndGlyphs" fill="#000" stroke="#000" stroke-width="0.35">0.8</text>
<rect x="138.90" y="200.40" width="23.80" height="15.50" fill="#fff" stroke="#8a8a8a" stroke-width="0.7"/>
<text x="139.50" y="213.10" font-family="Liberation Serif, serif" font-weight="bold" font-size="14.8" textLength="22.70" lengthAdjust="spacingAndGlyphs" fill="#000" stroke="#000" stroke-width="0.35">38.4</text>
<rect x="170.50" y="161.50" width="62.00" height="62.60" fill="#fff" stroke="#b2b2b2" stroke-width="0.9"/>
<line x1="168.90" y1="211.58" x2="170.50" y2="211.58" stroke="#8a8a8a" stroke-width="0.9"/>
<line x1="168.90" y1="199.06" x2="170.50" y2="199.06" stroke="#8a8a8a" stroke-width="0.9"/>
<line x1="168.90" y1="186.54" x2="170.50" y2="186.54" stroke="#8a8a8a" stroke-width="0.9"/>
<line x1="168.90" y1="174.02" x2="170.50" y2="174.02" stroke="#8a8a8a" stroke-width="0.9"/>
<line x1="186.00" y1="224.10" x2="186.00" y2="225.60" stroke="#b2b2b2" stroke-width="0.8"/>
<line x1="201.50" y1="224.10" x2="201.50" y2="225.60" stroke="#b2b2b2" stroke-width="0.8"/>
<line x1="217.00" y1="224.10" x2="217.00" y2="225.60" stroke="#b2b2b2" stroke-width="0.8"/>
<line x1="170.50" y1="171.00" x2="232.50" y2="171.00" stroke="#808080" stroke-width="0.9"/>
<line x1="185.90" y1="197.00" x2="232.50" y2="197.00" stroke="#808080" stroke-width="0.9"/>
<path d="M174.7,223.3 L174.7,223.3 L175.1,221.2 L176.5,221.1 L177.0,219.5 L177.5,218.4 L178.6,216.7 L179.5,215.2 L179.8,213.5 L181.2,212.0 L181.6,211.0 L182.8,208.5 L184.0,208.2 L183.9,205.0 L184.6,204.7 L185.7,206.6 L185.1,207.1 L185.8,208.5 L187.0,209.6 L186.9,211.9 L188.1,212.9 L189.0,215.0 L190.0,215.6 L190.9,217.6 L191.1,216.7 L192.3,214.0 L192.7,213.2 L193.5,212.0 L193.6,209.8 L194.4,207.9 L193.3,207.1 L194.2,204.7 L194.1,204.3 L194.6,203.0 L194.6,201.0 L195.5,200.0 L195.6,198.0 L194.9,198.4 L195.6,196.4 L196.0,196.0 L195.6,194.6 L195.9,192.2 L196.3,192.2 L196.2,189.6 L195.9,188.2 L197.1,186.5 L196.8,186.0 L197.6,184.3 L196.8,182.9 L196.8,182.1 L198.0,180.5 L198.0,180.2 L198.3,178.4 L197.9,177.7 L198.0,175.5 L197.5,177.3 L198.2,178.7 L198.5,180.1 L197.8,180.5 L198.0,183.1 L198.5,183.6 L198.8,185.0 L199.2,186.0 L198.7,188.8 L198.9,189.6 L199.1,190.8 L198.9,191.5 L200.1,193.0 L199.6,195.0 L199.4,196.5 L200.6,198.8 L199.5,199.4 L199.6,200.4 L199.8,202.2 L200.5,204.0 L200.3,204.9 L201.3,207.0 L200.8,208.7 L201.1,209.5 L200.9,210.8 L201.3,212.5 L201.2,213.0 L201.2,216.2 L202.2,216.6 L202.2,218.0 L202.1,220.3 L202.4,220.6 L203.0,222.6 L204.5,223.3 L204.5,223.3 Z" fill="#cbcbcb" stroke="none"/>
<path d="M174.7,223.3 L175.1,221.2 L176.5,221.1 L177.0,219.5 L177.5,218.4 L178.6,216.7 L179.5,215.2 L179.8,213.5 L181.2,212.0 L181.6,211.0 L182.8,208.5 L184.0,208.2 L183.9,205.0 L184.6,204.7 L185.7,206.6 L185.1,207.1 L185.8,208.5 L187.0,209.6 L186.9,211.9 L188.1,212.9 L189.0,215.0 L190.0,215.6 L190.9,217.6 L191.1,216.7 L192.3,214.0 L192.7,213.2 L193.5,212.0 L193.6,209.8 L194.4,207.9 L193.3,207.1 L194.2,204.7 L194.1,204.3 L194.6,203.0 L194.6,201.0 L195.5,200.0 L195.6,198.0 L194.9,198.4 L195.6,196.4 L196.0,196.0 L195.6,194.6 L195.9,192.2 L196.3,192.2 L196.2,189.6 L195.9,188.2 L197.1,186.5 L196.8,186.0 L197.6,184.3 L196.8,182.9 L196.8,182.1 L198.0,180.5 L198.0,180.2 L198.3,178.4 L197.9,177.7 L198.0,175.5 L197.5,177.3 L198.2,178.7 L198.5,180.1 L197.8,180.5 L198.0,183.1 L198.5,183.6 L198.8,185.0 L199.2,186.0 L198.7,188.8 L198.9,189.6 L199.1,190.8 L198.9,191.5 L200.1,193.0 L199.6,195.0 L199.4,196.5 L200.6,198.8 L199.5,199.4 L199.6,200.4 L199.8,202.2 L200.5,204.0 L200.3,204.9 L201.3,207.0 L200.8,208.7 L201.1,209.5 L200.9,210.8 L201.3,212.5 L201.2,213.0 L201.2,216.2 L202.2,216.6 L202.2,218.0 L202.1,220.3 L202.4,220.6 L203.0,222.6 L204.5,223.3" fill="none" stroke="#555" stroke-width="0.8" stroke-linejoin="round"/>
<path d="M174.7,223.3 L175.1,221.2 L176.5,221.1 L177.0,219.5 L177.5,218.4 L178.6,216.7 L179.5,215.2 L179.8,213.5 L181.2,212.0 L181.6,211.0 L182.8,208.5 L184.0,208.2 L183.9,205.0 L184.6,204.7 L185.7,206.6 L185.1,207.1 L185.8,208.5 L187.0,209.6 L186.9,211.9 L188.1,212.9 L189.0,215.0 L190.0,215.6 L190.9,217.6 L191.1,216.7 L192.3,214.0 L192.7,213.2 L193.5,212.0 L193.6,209.8 L194.4,207.9 L193.3,207.1 L194.2,204.7 L194.1,204.3 L194.6,203.0 L194.6,201.0 L195.5,200.0 L195.6,198.0 L194.9,198.4 L195.6,196.4 L196.0,196.0 L195.6,194.6 L195.9,192.2 L196.3,192.2 L196.2,189.6 L195.9,188.2 L197.1,186.5 L196.8,186.0 L197.6,184.3 L196.8,182.9 L196.8,182.1 L198.0,180.5 L198.0,180.2 L198.3,178.4 L197.9,177.7 L198.0,175.5 L197.5,177.3 L198.2,178.7 L198.5,180.1 L197.8,180.5 L198.0,183.1 L198.5,183.6 L198.8,185.0 L199.2,186.0 L198.7,188.8 L198.9,189.6 L199.1,190.8 L198.9,191.5 L200.1,193.0 L199.6,195.0 L199.4,196.5 L200.6,198.8 L199.5,199.4 L199.6,200.4 L199.8,202.2 L200.5,204.0 L200.3,204.9 L201.3,207.0 L200.8,208.7 L201.1,209.5 L200.9,210.8 L201.3,212.5 L201.2,213.0 L201.2,216.2 L202.2,216.6 L202.2,218.0 L202.1,220.3 L202.4,220.6 L203.0,222.6 L204.5,223.3" fill="none" stroke="#000" stroke-width="1.1" stroke-linejoin="round" stroke-dasharray="2.0 1.0"/>
<rect x="202.00" y="174.20" width="16.60" height="15.40" fill="#fff" stroke="#8a8a8a" stroke-width="0.7"/>
<text x="202.60" y="186.80" font-family="Liberation Serif, serif" font-weight="bold" font-size="14.8" textLength="15.50" lengthAdjust="spacingAndGlyphs" fill="#000" stroke="#000" stroke-width="0.35">3.6</text>
<rect x="206.90" y="199.70" width="23.50" height="15.50" fill="#fff" stroke="#8a8a8a" stroke-width="0.7"/>
<text x="207.50" y="212.40" font-family="Liberation Serif, serif" font-weight="bold" font-size="14.8" textLength="22.40" lengthAdjust="spacingAndGlyphs" fill="#000" stroke="#000" stroke-width="0.35">85.3</text>
<rect x="36.60" y="229.50" width="62.30" height="62.30" fill="#fff" stroke="#b2b2b2" stroke-width="0.9"/>
<line x1="35.00" y1="279.34" x2="36.60" y2="279.34" stroke="#8a8a8a" stroke-width="0.9"/>
<line x1="35.00" y1="266.88" x2="36.60" y2="266.88" stroke="#8a8a8a" stroke-width="0.9"/>
<line x1="35.00" y1="254.42" x2="36.60" y2="254.42" stroke="#8a8a8a" stroke-width="0.9"/>
<line x1="35.00" y1="241.96" x2="36.60" y2="241.96" stroke="#8a8a8a" stroke-width="0.9"/>
<line x1="52.17" y1="291.80" x2="52.17" y2="293.30" stroke="#b2b2b2" stroke-width="0.8"/>
<line x1="67.75" y1="291.80" x2="67.75" y2="293.30" stroke="#b2b2b2" stroke-width="0.8"/>
<line x1="83.32" y1="291.80" x2="83.32" y2="293.30" stroke="#b2b2b2" stroke-width="0.8"/>
<line x1="36.60" y1="239.30" x2="98.90" y2="239.30" stroke="#808080" stroke-width="0.9"/>
<line x1="52.20" y1="264.70" x2="98.90" y2="264.70" stroke="#808080" stroke-width="0.9"/>
<path d="M37.0,291.0 L37.0,279.9 L37.4,278.5 L38.4,278.4 L37.7,277.0 L38.8,275.0 L39.6,272.8 L39.7,273.2 L39.5,271.3 L40.7,269.8 L41.8,268.3 L42.2,267.8 L41.9,266.8 L42.8,264.5 L42.8,262.5 L44.1,262.1 L44.6,261.8 L44.8,259.7 L45.5,261.4 L45.5,262.5 L45.8,264.0 L46.5,264.5 L47.1,266.4 L46.8,268.4 L47.0,270.2 L47.4,270.7 L48.2,273.0 L48.9,274.7 L48.5,275.0 L49.5,277.2 L50.5,278.3 L50.9,279.2 L52.2,280.5 L51.8,282.0 L52.7,282.8 L53.0,284.5 L53.4,286.8 L53.3,288.0 L53.5,288.6 L53.7,289.4 L54.6,291.0 L54.6,291.0 Z" fill="#cbcbcb" stroke="none"/>
<path d="M37.0,279.9 L37.4,278.5 L38.4,278.4 L37.7,277.0 L38.8,275.0 L39.6,272.8 L39.7,273.2 L39.5,271.3 L40.7,269.8 L41.8,268.3 L42.2,267.8 L41.9,266.8 L42.8,264.5 L42.8,262.5 L44.1,262.1 L44.6,261.8 L44.8,259.7 L45.5,261.4 L45.5,262.5 L45.8,264.0 L46.5,264.5 L47.1,266.4 L46.8,268.4 L47.0,270.2 L47.4,270.7 L48.2,273.0 L48.9,274.7 L48.5,275.0 L49.5,277.2 L50.5,278.3 L50.9,279.2 L52.2,280.5 L51.8,282.0 L52.7,282.8 L53.0,284.5 L53.4,286.8 L53.3,288.0 L53.5,288.6 L53.7,289.4 L54.6,291.0" fill="none" stroke="#555" stroke-width="0.8" stroke-linejoin="round"/>
<path d="M37.0,279.9 L37.4,278.5 L38.4,278.4 L37.7,277.0 L38.8,275.0 L39.6,272.8 L39.7,273.2 L39.5,271.3 L40.7,269.8 L41.8,268.3 L42.2,267.8 L41.9,266.8 L42.8,264.5 L42.8,262.5 L44.1,262.1 L44.6,261.8 L44.8,259.7 L45.5,261.4 L45.5,262.5 L45.8,264.0 L46.5,264.5 L47.1,266.4 L46.8,268.4 L47.0,270.2 L47.4,270.7 L48.2,273.0 L48.9,274.7 L48.5,275.0 L49.5,277.2 L50.5,278.3 L50.9,279.2 L52.2,280.5 L51.8,282.0 L52.7,282.8 L53.0,284.5 L53.4,286.8 L53.3,288.0 L53.5,288.6 L53.7,289.4 L54.6,291.0" fill="none" stroke="#000" stroke-width="1.1" stroke-linejoin="round" stroke-dasharray="2.0 1.0"/>
<rect x="63.80" y="242.20" width="16.50" height="15.40" fill="#fff" stroke="#8a8a8a" stroke-width="0.7"/>
<text x="64.40" y="254.80" font-family="Liberation Serif, serif" font-weight="bold" font-size="14.8" textLength="15.40" lengthAdjust="spacingAndGlyphs" fill="#000" stroke="#000" stroke-width="0.35">0.2</text>
<rect x="74.70" y="268.40" width="16.60" height="15.90" fill="#fff" stroke="#8a8a8a" stroke-width="0.7"/>
<text x="75.30" y="281.50" font-family="Liberation Serif, serif" font-weight="bold" font-size="14.8" textLength="15.50" lengthAdjust="spacingAndGlyphs" fill="#000" stroke="#000" stroke-width="0.35">1.8</text>
<rect x="103.70" y="229.50" width="62.60" height="62.30" fill="#fff" stroke="#b2b2b2" stroke-width="0.9"/>
<line x1="102.10" y1="279.34" x2="103.70" y2="279.34" stroke="#8a8a8a" stroke-width="0.9"/>
<line x1="102.10" y1="266.88" x2="103.70" y2="266.88" stroke="#8a8a8a" stroke-width="0.9"/>
<line x1="102.10" y1="254.42" x2="103.70" y2="254.42" stroke="#8a8a8a" stroke-width="0.9"/>
<line x1="102.10" y1="241.96" x2="103.70" y2="241.96" stroke="#8a8a8a" stroke-width="0.9"/>
<line x1="119.35" y1="291.80" x2="119.35" y2="293.30" stroke="#b2b2b2" stroke-width="0.8"/>
<line x1="135.00" y1="291.80" x2="135.00" y2="293.30" stroke="#b2b2b2" stroke-width="0.8"/>
<line x1="150.65" y1="291.80" x2="150.65" y2="293.30" stroke="#b2b2b2" stroke-width="0.8"/>
<line x1="103.70" y1="239.30" x2="166.30" y2="239.30" stroke="#808080" stroke-width="0.9"/>
<line x1="118.80" y1="264.70" x2="166.30" y2="264.70" stroke="#808080" stroke-width="0.9"/>
<path d="M104.7,291.0 L104.7,290.0 L105.5,289.7 L105.0,287.2 L106.4,286.4 L106.7,285.2 L108.1,287.3 L108.2,285.7 L109.6,284.8 L109.5,283.0 L109.2,281.2 L110.0,280.1 L110.1,279.5 L110.8,277.8 L111.4,277.0 L110.9,275.1 L111.4,274.7 L111.5,273.0 L112.2,271.0 L112.8,269.1 L113.4,267.9 L112.5,267.0 L113.1,265.2 L113.5,264.4 L114.4,263.4 L113.9,261.0 L114.9,259.8 L114.5,259.0 L114.2,256.7 L115.0,255.0 L115.5,254.3 L116.5,256.9 L116.5,258.0 L117.7,260.3 L117.5,261.7 L117.4,263.9 L118.5,263.8 L117.4,266.2 L118.1,267.4 L118.2,268.2 L117.9,269.1 L118.8,271.1 L118.9,272.0 L118.8,274.7 L119.2,276.1 L119.9,276.5 L120.6,277.6 L120.3,279.8 L120.6,279.6 L120.9,281.9 L122.1,283.4 L122.2,285.5 L122.7,286.4 L123.6,288.6 L124.0,290.2 L126.2,290.0 L126.9,290.9 L127.6,291.0 L129.0,290.2 L130.6,291.0 L132.8,291.0 L133.6,291.0 L133.6,291.0 Z" fill="#cbcbcb" stroke="none"/>
<path d="M104.7,290.0 L105.5,289.7 L105.0,287.2 L106.4,286.4 L106.7,285.2 L108.1,287.3 L108.2,285.7 L109.6,284.8 L109.5,283.0 L109.2,281.2 L110.0,280.1 L110.1,279.5 L110.8,277.8 L111.4,277.0 L110.9,275.1 L111.4,274.7 L111.5,273.0 L112.2,271.0 L112.8,269.1 L113.4,267.9 L112.5,267.0 L113.1,265.2 L113.5,264.4 L114.4,263.4 L113.9,261.0 L114.9,259.8 L114.5,259.0 L114.2,256.7 L115.0,255.0 L115.5,254.3 L116.5,256.9 L116.5,258.0 L117.7,260.3 L117.5,261.7 L117.4,263.9 L118.5,263.8 L117.4,266.2 L118.1,267.4 L118.2,268.2 L117.9,269.1 L118.8,271.1 L118.9,272.0 L118.8,274.7 L119.2,276.1 L119.9,276.5 L120.6,277.6 L120.3,279.8 L120.6,279.6 L120.9,281.9 L122.1,283.4 L122.2,285.5 L122.7,286.4 L123.6,288.6 L124.0,290.2 L126.2,290.0 L126.9,290.9 L127.6,291.0 L129.0,290.2 L130.6,291.0 L132.8,291.0 L133.6,291.0" fill="none" stroke="#555" stroke-width="0.8" stroke-linejoin="round"/>
<path d="M104.7,290.0 L105.5,289.7 L105.0,287.2 L106.4,286.4 L106.7,285.2 L108.1,287.3 L108.2,285.7 L109.6,284.8 L109.5,283.0 L109.2,281.2 L110.0,280.1 L110.1,279.5 L110.8,277.8 L111.4,277.0 L110.9,275.1 L111.4,274.7 L111.5,273.0 L112.2,271.0 L112.8,269.1 L113.4,267.9 L112.5,267.0 L113.1,265.2 L113.5,264.4 L114.4,263.4 L113.9,261.0 L114.9,259.8 L114.5,259.0 L114.2,256.7 L115.0,255.0 L115.5,254.3 L116.5,256.9 L116.5,258.0 L117.7,260.3 L117.5,261.7 L117.4,263.9 L118.5,263.8 L117.4,266.2 L118.1,267.4 L118.2,268.2 L117.9,269.1 L118.8,271.1 L118.9,272.0 L118.8,274.7 L119.2,276.1 L119.9,276.5 L120.6,277.6 L120.3,279.8 L120.6,279.6 L120.9,281.9 L122.1,283.4 L122.2,285.5 L122.7,286.4 L123.6,288.6 L124.0,290.2 L126.2,290.0 L126.9,290.9 L127.6,291.0 L129.0,290.2 L130.6,291.0 L132.8,291.0 L133.6,291.0" fill="none" stroke="#000" stroke-width="1.1" stroke-linejoin="round" stroke-dasharray="2.0 1.0"/>
<rect x="131.50" y="242.20" width="16.80" height="15.40" fill="#fff" stroke="#8a8a8a" stroke-width="0.7"/>
<text x="132.10" y="254.80" font-family="Liberation Serif, serif" font-weight="bold" font-size="14.8" textLength="15.70" lengthAdjust="spacingAndGlyphs" fill="#000" stroke="#000" stroke-width="0.35">0.5</text>
<rect x="139.20" y="268.40" width="23.50" height="15.50" fill="#fff" stroke="#8a8a8a" stroke-width="0.7"/>
<text x="139.80" y="281.10" font-family="Liberation Serif, serif" font-weight="bold" font-size="14.8" textLength="22.40" lengthAdjust="spacingAndGlyphs" fill="#000" stroke="#000" stroke-width="0.35">14.5</text>
<rect x="170.50" y="229.50" width="62.00" height="62.30" fill="#fff" stroke="#b2b2b2" stroke-width="0.9"/>
<line x1="168.90" y1="279.34" x2="170.50" y2="279.34" stroke="#8a8a8a" stroke-width="0.9"/>
<line x1="168.90" y1="266.88" x2="170.50" y2="266.88" stroke="#8a8a8a" stroke-width="0.9"/>
<line x1="168.90" y1="254.42" x2="170.50" y2="254.42" stroke="#8a8a8a" stroke-width="0.9"/>
<line x1="168.90" y1="241.96" x2="170.50" y2="241.96" stroke="#8a8a8a" stroke-width="0.9"/>
<line x1="186.00" y1="291.80" x2="186.00" y2="293.30" stroke="#b2b2b2" stroke-width="0.8"/>
<line x1="201.50" y1="291.80" x2="201.50" y2="293.30" stroke="#b2b2b2" stroke-width="0.8"/>
<line x1="217.00" y1="291.80" x2="217.00" y2="293.30" stroke="#b2b2b2" stroke-width="0.8"/>
<line x1="170.50" y1="239.30" x2="232.50" y2="239.30" stroke="#808080" stroke-width="0.9"/>
<line x1="186.20" y1="264.70" x2="232.50" y2="264.70" stroke="#808080" stroke-width="0.9"/>
<path d="M170.9,291.0 L170.9,288.6 L171.4,286.7 L172.5,285.5 L173.2,285.2 L173.9,282.6 L174.1,281.9 L174.2,280.1 L175.3,278.0 L175.6,278.3 L175.8,276.0 L175.5,275.3 L176.6,272.4 L177.6,272.3 L177.4,269.8 L177.6,268.1 L178.5,266.8 L179.1,265.5 L179.2,265.1 L180.6,263.6 L180.8,261.7 L181.5,263.6 L181.2,264.4 L181.8,265.5 L181.9,266.6 L181.9,268.9 L182.8,269.8 L183.5,270.6 L182.9,272.1 L183.8,274.0 L184.2,274.3 L185.1,276.2 L184.8,277.8 L186.2,280.1 L186.2,280.8 L186.3,281.5 L187.5,283.2 L189.2,284.8 L190.9,285.9 L192.3,287.2 L193.6,288.6 L194.2,288.9 L194.9,290.9 L194.9,291.0 Z" fill="#cbcbcb" stroke="none"/>
<path d="M170.9,288.6 L171.4,286.7 L172.5,285.5 L173.2,285.2 L173.9,282.6 L174.1,281.9 L174.2,280.1 L175.3,278.0 L175.6,278.3 L175.8,276.0 L175.5,275.3 L176.6,272.4 L177.6,272.3 L177.4,269.8 L177.6,268.1 L178.5,266.8 L179.1,265.5 L179.2,265.1 L180.6,263.6 L180.8,261.7 L181.5,263.6 L181.2,264.4 L181.8,265.5 L181.9,266.6 L181.9,268.9 L182.8,269.8 L183.5,270.6 L182.9,272.1 L183.8,274.0 L184.2,274.3 L185.1,276.2 L184.8,277.8 L186.2,280.1 L186.2,280.8 L186.3,281.5 L187.5,283.2 L189.2,284.8 L190.9,285.9 L192.3,287.2 L193.6,288.6 L194.2,288.9 L194.9,290.9" fill="none" stroke="#555" stroke-width="0.8" stroke-linejoin="round"/>
<path d="M170.9,288.6 L171.4,286.7 L172.5,285.5 L173.2,285.2 L173.9,282.6 L174.1,281.9 L174.2,280.1 L175.3,278.0 L175.6,278.3 L175.8,276.0 L175.5,275.3 L176.6,272.4 L177.6,272.3 L177.4,269.8 L177.6,268.1 L178.5,266.8 L179.1,265.5 L179.2,265.1 L180.6,263.6 L180.8,261.7 L181.5,263.6 L181.2,264.4 L181.8,265.5 L181.9,266.6 L181.9,268.9 L182.8,269.8 L183.5,270.6 L182.9,272.1 L183.8,274.0 L184.2,274.3 L185.1,276.2 L184.8,277.8 L186.2,280.1 L186.2,280.8 L186.3,281.5 L187.5,283.2 L189.2,284.8 L190.9,285.9 L192.3,287.2 L193.6,288.6 L194.2,288.9 L194.9,290.9" fill="none" stroke="#000" stroke-width="1.1" stroke-linejoin="round" stroke-dasharray="2.0 1.0"/>
<rect x="197.90" y="242.20" width="16.70" height="15.70" fill="#fff" stroke="#8a8a8a" stroke-width="0.7"/>
<text x="198.50" y="255.10" font-family="Liberation Serif, serif" font-weight="bold" font-size="14.8" textLength="15.60" lengthAdjust="spacingAndGlyphs" fill="#000" stroke="#000" stroke-width="0.35">0.5</text>
<rect x="205.20" y="267.70" width="23.50" height="15.50" fill="#fff" stroke="#8a8a8a" stroke-width="0.7"/>
<text x="205.80" y="280.40" font-family="Liberation Serif, serif" font-weight="bold" font-size="14.8" textLength="22.40" lengthAdjust="spacingAndGlyphs" fill="#000" stroke="#000" stroke-width="0.35">20.2</text>
<rect x="248.60" y="25.00" width="61.40" height="63.10" fill="#fff" stroke="#b2b2b2" stroke-width="0.9"/>
<line x1="247.00" y1="75.48" x2="248.60" y2="75.48" stroke="#8a8a8a" stroke-width="0.9"/>
<line x1="247.00" y1="62.86" x2="248.60" y2="62.86" stroke="#8a8a8a" stroke-width="0.9"/>
<line x1="247.00" y1="50.24" x2="248.60" y2="50.24" stroke="#8a8a8a" stroke-width="0.9"/>
<line x1="247.00" y1="37.62" x2="248.60" y2="37.62" stroke="#8a8a8a" stroke-width="0.9"/>
<line x1="263.95" y1="88.10" x2="263.95" y2="89.60" stroke="#b2b2b2" stroke-width="0.8"/>
<line x1="279.30" y1="88.10" x2="279.30" y2="89.60" stroke="#b2b2b2" stroke-width="0.8"/>
<line x1="294.65" y1="88.10" x2="294.65" y2="89.60" stroke="#b2b2b2" stroke-width="0.8"/>
<line x1="248.60" y1="34.80" x2="310.00" y2="34.80" stroke="#808080" stroke-width="0.9"/>
<line x1="263.90" y1="60.70" x2="310.00" y2="60.70" stroke="#808080" stroke-width="0.9"/>
<path d="M248.9,87.3 L248.9,79.2 L249.5,78.3 L250.0,76.0 L251.0,75.4 L251.4,73.8 L252.2,72.8 L251.6,71.2 L252.2,70.1 L252.8,68.0 L252.9,66.6 L253.0,65.3 L253.4,62.8 L254.1,61.7 L255.0,59.6 L254.5,59.0 L255.8,57.2 L255.1,56.0 L255.8,54.5 L256.4,53.7 L255.9,52.7 L257.3,50.3 L257.7,49.7 L257.5,47.6 L257.5,48.0 L257.6,49.5 L258.4,52.6 L258.5,53.0 L258.6,55.4 L258.9,56.7 L259.6,57.0 L259.5,59.0 L259.2,61.4 L260.2,62.2 L260.1,62.9 L260.5,65.0 L260.3,65.8 L261.1,67.6 L260.8,69.9 L261.5,71.1 L261.5,71.5 L261.6,74.2 L261.8,74.8 L262.5,76.5 L262.8,78.4 L262.4,78.3 L263.3,80.3 L263.5,81.9 L263.6,83.6 L264.8,84.8 L265.8,85.3 L266.2,87.2 L266.2,87.3 Z" fill="#cbcbcb" stroke="none"/>
<path d="M248.9,79.2 L249.5,78.3 L250.0,76.0 L251.0,75.4 L251.4,73.8 L252.2,72.8 L251.6,71.2 L252.2,70.1 L252.8,68.0 L252.9,66.6 L253.0,65.3 L253.4,62.8 L254.1,61.7 L255.0,59.6 L254.5,59.0 L255.8,57.2 L255.1,56.0 L255.8,54.5 L256.4,53.7 L255.9,52.7 L257.3,50.3 L257.7,49.7 L257.5,47.6 L257.5,48.0 L257.6,49.5 L258.4,52.6 L258.5,53.0 L258.6,55.4 L258.9,56.7 L259.6,57.0 L259.5,59.0 L259.2,61.4 L260.2,62.2 L260.1,62.9 L260.5,65.0 L260.3,65.8 L261.1,67.6 L260.8,69.9 L261.5,71.1 L261.5,71.5 L261.6,74.2 L261.8,74.8 L262.5,76.5 L262.8,78.4 L262.4,78.3 L263.3,80.3 L263.5,81.9 L263.6,83.6 L264.8,84.8 L265.8,85.3 L266.2,87.2" fill="none" stroke="#555" stroke-width="0.8" stroke-linejoin="round"/>
<path d="M248.9,79.2 L249.5,78.3 L250.0,76.0 L251.0,75.4 L251.4,73.8 L252.2,72.8 L251.6,71.2 L252.2,70.1 L252.8,68.0 L252.9,66.6 L253.0,65.3 L253.4,62.8 L254.1,61.7 L255.0,59.6 L254.5,59.0 L255.8,57.2 L255.1,56.0 L255.8,54.5 L256.4,53.7 L255.9,52.7 L257.3,50.3 L257.7,49.7 L257.5,47.6 L257.5,48.0 L257.6,49.5 L258.4,52.6 L258.5,53.0 L258.6,55.4 L258.9,56.7 L259.6,57.0 L259.5,59.0 L259.2,61.4 L260.2,62.2 L260.1,62.9 L260.5,65.0 L260.3,65.8 L261.1,67.6 L260.8,69.9 L261.5,71.1 L261.5,71.5 L261.6,74.2 L261.8,74.8 L262.5,76.5 L262.8,78.4 L262.4,78.3 L263.3,80.3 L263.5,81.9 L263.6,83.6 L264.8,84.8 L265.8,85.3 L266.2,87.2" fill="none" stroke="#000" stroke-width="1.1" stroke-linejoin="round" stroke-dasharray="2.0 1.0"/>
<rect x="277.30" y="38.20" width="16.30" height="15.40" fill="#fff" stroke="#8a8a8a" stroke-width="0.7"/>
<text x="277.90" y="50.80" font-family="Liberation Serif, serif" font-weight="bold" font-size="14.8" textLength="15.20" lengthAdjust="spacingAndGlyphs" fill="#000" stroke="#000" stroke-width="0.35">0.3</text>
<rect x="287.00" y="63.70" width="17.40" height="15.50" fill="#fff" stroke="#8a8a8a" stroke-width="0.7"/>
<text x="287.60" y="76.40" font-family="Liberation Serif, serif" font-weight="bold" font-size="14.8" textLength="16.30" lengthAdjust="spacingAndGlyphs" fill="#000" stroke="#000" stroke-width="0.35">3.5</text>
<rect x="314.80" y="25.00" width="62.10" height="63.10" fill="#fff" stroke="#b2b2b2" stroke-width="0.9"/>
<line x1="313.20" y1="75.48" x2="314.80" y2="75.48" stroke="#8a8a8a" stroke-width="0.9"/>
<line x1="313.20" y1="62.86" x2="314.80" y2="62.86" stroke="#8a8a8a" stroke-width="0.9"/>
<line x1="313.20" y1="50.24" x2="314.80" y2="50.24" stroke="#8a8a8a" stroke-width="0.9"/>
<line x1="313.20" y1="37.62" x2="314.80" y2="37.62" stroke="#8a8a8a" stroke-width="0.9"/>
<line x1="330.32" y1="88.10" x2="330.32" y2="89.60" stroke="#b2b2b2" stroke-width="0.8"/>
<line x1="345.85" y1="88.10" x2="345.85" y2="89.60" stroke="#b2b2b2" stroke-width="0.8"/>
<line x1="361.38" y1="88.10" x2="361.38" y2="89.60" stroke="#b2b2b2" stroke-width="0.8"/>
<line x1="314.80" y1="34.80" x2="376.90" y2="34.80" stroke="#808080" stroke-width="0.9"/>
<line x1="328.80" y1="60.70" x2="376.90" y2="60.70" stroke="#808080" stroke-width="0.9"/>
<path d="M315.4,87.3 L315.4,86.6 L315.9,85.1 L317.0,84.0 L318.5,81.9 L318.7,80.6 L319.1,78.9 L319.1,77.7 L320.2,77.4 L319.3,75.0 L320.0,74.0 L319.9,73.1 L321.1,70.3 L321.3,69.7 L321.7,68.3 L321.4,67.1 L321.2,65.5 L322.0,63.1 L322.8,62.8 L322.7,60.2 L322.8,59.5 L323.1,57.8 L323.0,55.9 L324.2,55.2 L323.8,53.0 L324.1,52.3 L325.0,51.4 L324.1,48.8 L325.5,48.8 L324.4,46.4 L325.3,45.0 L325.4,44.5 L325.9,43.1 L325.5,41.6 L325.8,40.1 L326.4,38.2 L327.0,39.3 L326.3,41.5 L326.7,41.5 L326.8,43.4 L326.8,43.9 L327.3,46.0 L328.0,48.0 L327.7,48.1 L327.2,51.1 L327.5,52.8 L328.2,53.6 L328.5,55.4 L328.4,57.1 L329.1,58.2 L329.2,60.0 L329.7,61.3 L329.6,62.8 L330.1,63.4 L330.2,65.8 L330.2,67.3 L331.2,69.4 L330.7,70.4 L331.5,72.0 L331.3,73.4 L332.1,74.2 L332.5,75.6 L332.9,77.9 L332.7,79.3 L333.1,80.9 L334.5,82.4 L333.9,83.3 L334.9,84.6 L336.2,83.3 L336.7,84.7 L337.6,86.0 L338.9,84.3 L339.3,86.2 L341.4,87.0 L341.6,87.3 L341.6,87.3 Z" fill="#cbcbcb" stroke="none"/>
<path d="M315.4,86.6 L315.9,85.1 L317.0,84.0 L318.5,81.9 L318.7,80.6 L319.1,78.9 L319.1,77.7 L320.2,77.4 L319.3,75.0 L320.0,74.0 L319.9,73.1 L321.1,70.3 L321.3,69.7 L321.7,68.3 L321.4,67.1 L321.2,65.5 L322.0,63.1 L322.8,62.8 L322.7,60.2 L322.8,59.5 L323.1,57.8 L323.0,55.9 L324.2,55.2 L323.8,53.0 L324.1,52.3 L325.0,51.4 L324.1,48.8 L325.5,48.8 L324.4,46.4 L325.3,45.0 L325.4,44.5 L325.9,43.1 L325.5,41.6 L325.8,40.1 L326.4,38.2 L327.0,39.3 L326.3,41.5 L326.7,41.5 L326.8,43.4 L326.8,43.9 L327.3,46.0 L328.0,48.0 L327.7,48.1 L327.2,51.1 L327.5,52.8 L328.2,53.6 L328.5,55.4 L328.4,57.1 L329.1,58.2 L329.2,60.0 L329.7,61.3 L329.6,62.8 L330.1,63.4 L330.2,65.8 L330.2,67.3 L331.2,69.4 L330.7,70.4 L331.5,72.0 L331.3,73.4 L332.1,74.2 L332.5,75.6 L332.9,77.9 L332.7,79.3 L333.1,80.9 L334.5,82.4 L333.9,83.3 L334.9,84.6 L336.2,83.3 L336.7,84.7 L337.6,86.0 L338.9,84.3 L339.3,86.2 L341.4,87.0 L341.6,87.3" fill="none" stroke="#555" stroke-width="0.8" stroke-linejoin="round"/>
<path d="M315.4,86.6 L315.9,85.1 L317.0,84.0 L318.5,81.9 L318.7,80.6 L319.1,78.9 L319.1,77.7 L320.2,77.4 L319.3,75.0 L320.0,74.0 L319.9,73.1 L321.1,70.3 L321.3,69.7 L321.7,68.3 L321.4,67.1 L321.2,65.5 L322.0,63.1 L322.8,62.8 L322.7,60.2 L322.8,59.5 L323.1,57.8 L323.0,55.9 L324.2,55.2 L323.8,53.0 L324.1,52.3 L325.0,51.4 L324.1,48.8 L325.5,48.8 L324.4,46.4 L325.3,45.0 L325.4,44.5 L325.9,43.1 L325.5,41.6 L325.8,40.1 L326.4,38.2 L327.0,39.3 L326.3,41.5 L326.7,41.5 L326.8,43.4 L326.8,43.9 L327.3,46.0 L328.0,48.0 L327.7,48.1 L327.2,51.1 L327.5,52.8 L328.2,53.6 L328.5,55.4 L328.4,57.1 L329.1,58.2 L329.2,60.0 L329.7,61.3 L329.6,62.8 L330.1,63.4 L330.2,65.8 L330.2,67.3 L331.2,69.4 L330.7,70.4 L331.5,72.0 L331.3,73.4 L332.1,74.2 L332.5,75.6 L332.9,77.9 L332.7,79.3 L333.1,80.9 L334.5,82.4 L333.9,83.3 L334.9,84.6 L336.2,83.3 L336.7,84.7 L337.6,86.0 L338.9,84.3 L339.3,86.2 L341.4,87.0 L341.6,87.3" fill="none" stroke="#000" stroke-width="1.1" stroke-linejoin="round" stroke-dasharray="2.0 1.0"/>
<rect x="343.50" y="36.80" width="16.70" height="15.50" fill="#fff" stroke="#8a8a8a" stroke-width="0.7"/>
<text x="344.10" y="49.50" font-family="Liberation Serif, serif" font-weight="bold" font-size="14.8" textLength="15.60" lengthAdjust="spacingAndGlyphs" fill="#000" stroke="#000" stroke-width="0.35">0.6</text>
<rect x="351.90" y="63.10" width="22.80" height="15.40" fill="#fff" stroke="#8a8a8a" stroke-width="0.7"/>
<text x="352.50" y="75.70" font-family="Liberation Serif, serif" font-weight="bold" font-size="14.8" textLength="21.70" lengthAdjust="spacingAndGlyphs" fill="#000" stroke="#000" stroke-width="0.35">18.9</text>
<rect x="381.00" y="25.00" width="62.50" height="63.10" fill="#fff" stroke="#b2b2b2" stroke-width="0.9"/>
<line x1="379.40" y1="75.48" x2="381.00" y2="75.48" stroke="#8a8a8a" stroke-width="0.9"/>
<line x1="379.40" y1="62.86" x2="381.00" y2="62.86" stroke="#8a8a8a" stroke-width="0.9"/>
<line x1="379.40" y1="50.24" x2="381.00" y2="50.24" stroke="#8a8a8a" stroke-width="0.9"/>
<line x1="379.40" y1="37.62" x2="381.00" y2="37.62" stroke="#8a8a8a" stroke-width="0.9"/>
<line x1="396.62" y1="88.10" x2="396.62" y2="89.60" stroke="#b2b2b2" stroke-width="0.8"/>
<line x1="412.25" y1="88.10" x2="412.25" y2="89.60" stroke="#b2b2b2" stroke-width="0.8"/>
<line x1="427.88" y1="88.10" x2="427.88" y2="89.60" stroke="#b2b2b2" stroke-width="0.8"/>
<line x1="381.00" y1="34.80" x2="443.50" y2="34.80" stroke="#808080" stroke-width="0.9"/>
<line x1="396.20" y1="60.70" x2="443.50" y2="60.70" stroke="#808080" stroke-width="0.9"/>
<path d="M381.4,87.3 L381.4,77.9 L382.4,77.0 L383.2,74.6 L383.7,73.8 L383.1,73.3 L384.1,71.1 L385.1,70.4 L384.6,67.7 L384.7,67.8 L385.5,66.0 L385.5,65.4 L385.7,63.8 L387.1,61.8 L386.8,60.4 L386.8,58.3 L387.1,57.5 L387.3,55.0 L388.0,54.5 L388.9,52.4 L389.1,52.1 L389.2,49.6 L389.1,48.9 L389.2,49.5 L389.1,51.9 L389.5,53.7 L389.5,54.3 L390.5,56.0 L391.5,57.7 L391.5,59.0 L392.4,59.7 L391.9,62.3 L391.9,64.1 L392.5,65.0 L392.9,67.5 L393.4,67.8 L392.8,69.5 L393.5,71.1 L393.3,73.2 L394.0,75.0 L394.8,76.0 L395.9,77.8 L396.0,79.2 L396.2,80.6 L396.3,81.6 L397.8,83.3 L398.2,83.4 L399.6,85.3 L401.1,86.0 L403.3,86.2 L404.3,86.6 L405.4,86.0 L406.6,87.2 L408.5,86.1 L410.0,86.5 L411.7,87.3 L411.7,87.3 Z" fill="#cbcbcb" stroke="none"/>
<path d="M381.4,77.9 L382.4,77.0 L383.2,74.6 L383.7,73.8 L383.1,73.3 L384.1,71.1 L385.1,70.4 L384.6,67.7 L384.7,67.8 L385.5,66.0 L385.5,65.4 L385.7,63.8 L387.1,61.8 L386.8,60.4 L386.8,58.3 L387.1,57.5 L387.3,55.0 L388.0,54.5 L388.9,52.4 L389.1,52.1 L389.2,49.6 L389.1,48.9 L389.2,49.5 L389.1,51.9 L389.5,53.7 L389.5,54.3 L390.5,56.0 L391.5,57.7 L391.5,59.0 L392.4,59.7 L391.9,62.3 L391.9,64.1 L392.5,65.0 L392.9,67.5 L393.4,67.8 L392.8,69.5 L393.5,71.1 L393.3,73.2 L394.0,75.0 L394.8,76.0 L395.9,77.8 L396.0,79.2 L396.2,80.6 L396.3,81.6 L397.8,83.3 L398.2,83.4 L399.6,85.3 L401.1,86.0 L403.3,86.2 L404.3,86.6 L405.4,86.0 L406.6,87.2 L408.5,86.1 L410.0,86.5 L411.7,87.3" fill="none" stroke="#555" stroke-width="0.8" stroke-linejoin="round"/>
<path d="M381.4,77.9 L382.4,77.0 L383.2,74.6 L383.7,73.8 L383.1,73.3 L384.1,71.1 L385.1,70.4 L384.6,67.7 L384.7,67.8 L385.5,66.0 L385.5,65.4 L385.7,63.8 L387.1,61.8 L386.8,60.4 L386.8,58.3 L387.1,57.5 L387.3,55.0 L388.0,54.5 L388.9,52.4 L389.1,52.1 L389.2,49.6 L389.1,48.9 L389.2,49.5 L389.1,51.9 L389.5,53.7 L389.5,54.3 L390.5,56.0 L391.5,57.7 L391.5,59.0 L392.4,59.7 L391.9,62.3 L391.9,64.1 L392.5,65.0 L392.9,67.5 L393.4,67.8 L392.8,69.5 L393.5,71.1 L393.3,73.2 L394.0,75.0 L394.8,76.0 L395.9,77.8 L396.0,79.2 L396.2,80.6 L396.3,81.6 L397.8,83.3 L398.2,83.4 L399.6,85.3 L401.1,86.0 L403.3,86.2 L404.3,86.6 L405.4,86.0 L406.6,87.2 L408.5,86.1 L410.0,86.5 L411.7,87.3" fill="none" stroke="#000" stroke-width="1.1" stroke-linejoin="round" stroke-dasharray="2.0 1.0"/>
<rect x="409.50" y="37.20" width="16.40" height="15.10" fill="#fff" stroke="#8a8a8a" stroke-width="0.7"/>
<text x="410.10" y="49.50" font-family="Liberation Serif, serif" font-weight="bold" font-size="14.8" textLength="15.30" lengthAdjust="spacingAndGlyphs" fill="#000" stroke="#000" stroke-width="0.35">0.3</text>
<rect x="420.00" y="62.80" width="16.70" height="15.30" fill="#fff" stroke="#8a8a8a" stroke-width="0.7"/>
<text x="420.60" y="75.30" font-family="Liberation Serif, serif" font-weight="bold" font-size="14.8" textLength="15.60" lengthAdjust="spacingAndGlyphs" fill="#000" stroke="#000" stroke-width="0.35">9.7</text>
<rect x="248.60" y="93.50" width="61.40" height="62.80" fill="#fff" stroke="#b2b2b2" stroke-width="0.9"/>
<line x1="247.00" y1="143.74" x2="248.60" y2="143.74" stroke="#8a8a8a" stroke-width="0.9"/>
<line x1="247.00" y1="131.18" x2="248.60" y2="131.18" stroke="#8a8a8a" stroke-width="0.9"/>
<line x1="247.00" y1="118.62" x2="248.60" y2="118.62" stroke="#8a8a8a" stroke-width="0.9"/>
<line x1="247.00" y1="106.06" x2="248.60" y2="106.06" stroke="#8a8a8a" stroke-width="0.9"/>
<line x1="263.95" y1="156.30" x2="263.95" y2="157.80" stroke="#b2b2b2" stroke-width="0.8"/>
<line x1="279.30" y1="156.30" x2="279.30" y2="157.80" stroke="#b2b2b2" stroke-width="0.8"/>
<line x1="294.65" y1="156.30" x2="294.65" y2="157.80" stroke="#b2b2b2" stroke-width="0.8"/>
<line x1="248.60" y1="103.30" x2="310.00" y2="103.30" stroke="#808080" stroke-width="0.9"/>
<line x1="263.90" y1="129.20" x2="310.00" y2="129.20" stroke="#808080" stroke-width="0.9"/>
<path d="M248.9,155.5 L248.9,152.6 L249.6,150.7 L249.7,150.1 L250.7,148.8 L251.4,147.2 L252.3,145.1 L251.6,144.0 L252.6,142.3 L253.1,142.5 L252.7,140.3 L253.4,139.1 L253.9,136.4 L253.9,135.8 L254.4,134.0 L254.6,132.9 L255.2,132.1 L255.7,129.3 L255.4,128.4 L255.7,126.0 L255.5,125.3 L256.5,123.1 L256.4,121.5 L256.5,121.0 L256.2,120.4 L257.1,117.4 L257.3,116.6 L256.8,115.7 L257.5,113.6 L257.8,111.7 L259.1,109.6 L259.1,108.9 L259.7,111.2 L260.2,111.3 L260.0,114.0 L260.2,116.2 L260.5,117.8 L260.8,119.0 L260.4,119.9 L260.4,121.3 L261.6,122.9 L261.8,125.0 L261.5,126.0 L261.3,128.0 L261.8,129.3 L262.1,131.4 L262.2,132.4 L262.6,133.3 L262.2,136.0 L262.1,137.1 L262.6,137.2 L263.2,139.0 L264.0,140.9 L263.4,142.3 L263.6,143.9 L264.6,144.0 L264.2,145.9 L265.0,148.0 L265.2,149.5 L266.4,151.4 L266.2,152.6 L267.7,153.9 L268.2,155.4 L268.2,155.5 Z" fill="#cbcbcb" stroke="none"/>
<path d="M248.9,152.6 L249.6,150.7 L249.7,150.1 L250.7,148.8 L251.4,147.2 L252.3,145.1 L251.6,144.0 L252.6,142.3 L253.1,142.5 L252.7,140.3 L253.4,139.1 L253.9,136.4 L253.9,135.8 L254.4,134.0 L254.6,132.9 L255.2,132.1 L255.7,129.3 L255.4,128.4 L255.7,126.0 L255.5,125.3 L256.5,123.1 L256.4,121.5 L256.5,121.0 L256.2,120.4 L257.1,117.4 L257.3,116.6 L256.8,115.7 L257.5,113.6 L257.8,111.7 L259.1,109.6 L259.1,108.9 L259.7,111.2 L260.2,111.3 L260.0,114.0 L260.2,116.2 L260.5,117.8 L260.8,119.0 L260.4,119.9 L260.4,121.3 L261.6,122.9 L261.8,125.0 L261.5,126.0 L261.3,128.0 L261.8,129.3 L262.1,131.4 L262.2,132.4 L262.6,133.3 L262.2,136.0 L262.1,137.1 L262.6,137.2 L263.2,139.0 L264.0,140.9 L263.4,142.3 L263.6,143.9 L264.6,144.0 L264.2,145.9 L265.0,148.0 L265.2,149.5 L266.4,151.4 L266.2,152.6 L267.7,153.9 L268.2,155.4" fill="none" stroke="#555" stroke-width="0.8" stroke-linejoin="round"/>
<path d="M248.9,152.6 L249.6,150.7 L249.7,150.1 L250.7,148.8 L251.4,147.2 L252.3,145.1 L251.6,144.0 L252.6,142.3 L253.1,142.5 L252.7,140.3 L253.4,139.1 L253.9,136.4 L253.9,135.8 L254.4,134.0 L254.6,132.9 L255.2,132.1 L255.7,129.3 L255.4,128.4 L255.7,126.0 L255.5,125.3 L256.5,123.1 L256.4,121.5 L256.5,121.0 L256.2,120.4 L257.1,117.4 L257.3,116.6 L256.8,115.7 L257.5,113.6 L257.8,111.7 L259.1,109.6 L259.1,108.9 L259.7,111.2 L260.2,111.3 L260.0,114.0 L260.2,116.2 L260.5,117.8 L260.8,119.0 L260.4,119.9 L260.4,121.3 L261.6,122.9 L261.8,125.0 L261.5,126.0 L261.3,128.0 L261.8,129.3 L262.1,131.4 L262.2,132.4 L262.6,133.3 L262.2,136.0 L262.1,137.1 L262.6,137.2 L263.2,139.0 L264.0,140.9 L263.4,142.3 L263.6,143.9 L264.6,144.0 L264.2,145.9 L265.0,148.0 L265.2,149.5 L266.4,151.4 L266.2,152.6 L267.7,153.9 L268.2,155.4" fill="none" stroke="#000" stroke-width="1.1" stroke-linejoin="round" stroke-dasharray="2.0 1.0"/>
<rect x="277.50" y="105.20" width="17.10" height="15.80" fill="#fff" stroke="#8a8a8a" stroke-width="0.7"/>
<text x="278.10" y="118.20" font-family="Liberation Serif, serif" font-weight="bold" font-size="14.8" textLength="16.00" lengthAdjust="spacingAndGlyphs" fill="#000" stroke="#000" stroke-width="0.35">0.4</text>
<rect x="287.00" y="131.70" width="17.40" height="15.50" fill="#fff" stroke="#8a8a8a" stroke-width="0.7"/>
<text x="287.60" y="144.40" font-family="Liberation Serif, serif" font-weight="bold" font-size="14.8" textLength="16.30" lengthAdjust="spacingAndGlyphs" fill="#000" stroke="#000" stroke-width="0.35">8.4</text>
<rect x="314.80" y="93.50" width="62.10" height="62.80" fill="#fff" stroke="#b2b2b2" stroke-width="0.9"/>
<line x1="313.20" y1="143.74" x2="314.80" y2="143.74" stroke="#8a8a8a" stroke-width="0.9"/>
<line x1="313.20" y1="131.18" x2="314.80" y2="131.18" stroke="#8a8a8a" stroke-width="0.9"/>
<line x1="313.20" y1="118.62" x2="314.80" y2="118.62" stroke="#8a8a8a" stroke-width="0.9"/>
<line x1="313.20" y1="106.06" x2="314.80" y2="106.06" stroke="#8a8a8a" stroke-width="0.9"/>
<line x1="330.32" y1="156.30" x2="330.32" y2="157.80" stroke="#b2b2b2" stroke-width="0.8"/>
<line x1="345.85" y1="156.30" x2="345.85" y2="157.80" stroke="#b2b2b2" stroke-width="0.8"/>
<line x1="361.38" y1="156.30" x2="361.38" y2="157.80" stroke="#b2b2b2" stroke-width="0.8"/>
<line x1="314.80" y1="103.30" x2="376.90" y2="103.30" stroke="#808080" stroke-width="0.9"/>
<line x1="330.20" y1="129.20" x2="376.90" y2="129.20" stroke="#808080" stroke-width="0.9"/>
<path d="M317.4,155.5 L317.4,155.3 L319.6,155.0 L320.8,153.9 L321.6,152.5 L321.5,151.4 L322.2,150.0 L322.8,148.1 L323.6,146.4 L323.5,145.9 L323.2,143.8 L324.9,142.4 L324.2,141.5 L324.5,139.5 L325.5,139.1 L326.3,137.9 L326.8,136.0 L327.8,134.9 L328.2,133.1 L328.8,133.4 L329.2,135.5 L330.2,137.8 L331.3,135.8 L331.5,134.4 L332.4,136.4 L332.7,136.2 L333.2,139.3 L332.9,139.8 L334.2,142.0 L334.5,142.5 L335.6,144.5 L335.6,142.5 L337.0,142.0 L338.1,141.2 L338.3,139.1 L339.3,138.2 L339.1,137.0 L340.0,135.5 L340.0,133.4 L340.7,133.5 L341.6,131.7 L341.7,132.7 L341.6,133.4 L342.4,135.2 L342.3,137.0 L342.3,138.3 L342.8,141.1 L343.0,141.8 L343.4,144.1 L343.3,144.0 L343.7,146.5 L344.3,148.0 L344.4,149.4 L344.3,151.3 L344.6,152.7 L345.1,154.8 L346.3,155.4 L346.3,155.5 Z" fill="#cbcbcb" stroke="none"/>
<path d="M317.4,155.3 L319.6,155.0 L320.8,153.9 L321.6,152.5 L321.5,151.4 L322.2,150.0 L322.8,148.1 L323.6,146.4 L323.5,145.9 L323.2,143.8 L324.9,142.4 L324.2,141.5 L324.5,139.5 L325.5,139.1 L326.3,137.9 L326.8,136.0 L327.8,134.9 L328.2,133.1 L328.8,133.4 L329.2,135.5 L330.2,137.8 L331.3,135.8 L331.5,134.4 L332.4,136.4 L332.7,136.2 L333.2,139.3 L332.9,139.8 L334.2,142.0 L334.5,142.5 L335.6,144.5 L335.6,142.5 L337.0,142.0 L338.1,141.2 L338.3,139.1 L339.3,138.2 L339.1,137.0 L340.0,135.5 L340.0,133.4 L340.7,133.5 L341.6,131.7 L341.7,132.7 L341.6,133.4 L342.4,135.2 L342.3,137.0 L342.3,138.3 L342.8,141.1 L343.0,141.8 L343.4,144.1 L343.3,144.0 L343.7,146.5 L344.3,148.0 L344.4,149.4 L344.3,151.3 L344.6,152.7 L345.1,154.8 L346.3,155.4" fill="none" stroke="#555" stroke-width="0.8" stroke-linejoin="round"/>
<path d="M317.4,155.3 L319.6,155.0 L320.8,153.9 L321.6,152.5 L321.5,151.4 L322.2,150.0 L322.8,148.1 L323.6,146.4 L323.5,145.9 L323.2,143.8 L324.9,142.4 L324.2,141.5 L324.5,139.5 L325.5,139.1 L326.3,137.9 L326.8,136.0 L327.8,134.9 L328.2,133.1 L328.8,133.4 L329.2,135.5 L330.2,137.8 L331.3,135.8 L331.5,134.4 L332.4,136.4 L332.7,136.2 L333.2,139.3 L332.9,139.8 L334.2,142.0 L334.5,142.5 L335.6,144.5 L335.6,142.5 L337.0,142.0 L338.1,141.2 L338.3,139.1 L339.3,138.2 L339.1,137.0 L340.0,135.5 L340.0,133.4 L340.7,133.5 L341.6,131.7 L341.7,132.7 L341.6,133.4 L342.4,135.2 L342.3,137.0 L342.3,138.3 L342.8,141.1 L343.0,141.8 L343.4,144.1 L343.3,144.0 L343.7,146.5 L344.3,148.0 L344.4,149.4 L344.3,151.3 L344.6,152.7 L345.1,154.8 L346.3,155.4" fill="none" stroke="#000" stroke-width="1.1" stroke-linejoin="round" stroke-dasharray="2.0 1.0"/>
<rect x="343.50" y="105.50" width="17.10" height="16.10" fill="#fff" stroke="#8a8a8a" stroke-width="0.7"/>
<text x="344.10" y="118.80" font-family="Liberation Serif, serif" font-weight="bold" font-size="14.8" textLength="16.00" lengthAdjust="spacingAndGlyphs" fill="#000" stroke="#000" stroke-width="0.35">1.5</text>
<rect x="351.40" y="131.70" width="23.30" height="16.20" fill="#fff" stroke="#8a8a8a" stroke-width="0.7"/>
<text x="352.00" y="145.10" font-family="Liberation Serif, serif" font-weight="bold" font-size="14.8" textLength="22.20" lengthAdjust="spacingAndGlyphs" fill="#000" stroke="#000" stroke-width="0.35">60.6</text>
<rect x="381.00" y="93.50" width="62.50" height="62.80" fill="#fff" stroke="#b2b2b2" stroke-width="0.9"/>
<line x1="379.40" y1="143.74" x2="381.00" y2="143.74" stroke="#8a8a8a" stroke-width="0.9"/>
<line x1="379.40" y1="131.18" x2="381.00" y2="131.18" stroke="#8a8a8a" stroke-width="0.9"/>
<line x1="379.40" y1="118.62" x2="381.00" y2="118.62" stroke="#8a8a8a" stroke-width="0.9"/>
<line x1="379.40" y1="106.06" x2="381.00" y2="106.06" stroke="#8a8a8a" stroke-width="0.9"/>
<line x1="396.62" y1="156.30" x2="396.62" y2="157.80" stroke="#b2b2b2" stroke-width="0.8"/>
<line x1="412.25" y1="156.30" x2="412.25" y2="157.80" stroke="#b2b2b2" stroke-width="0.8"/>
<line x1="427.88" y1="156.30" x2="427.88" y2="157.80" stroke="#b2b2b2" stroke-width="0.8"/>
<line x1="381.00" y1="103.30" x2="443.50" y2="103.30" stroke="#808080" stroke-width="0.9"/>
<line x1="396.20" y1="129.20" x2="443.50" y2="129.20" stroke="#808080" stroke-width="0.9"/>
<path d="M381.4,155.5 L381.4,154.9 L382.3,155.0 L383.6,152.8 L385.4,153.3 L386.7,152.6 L386.7,150.0 L387.8,149.8 L388.1,148.6 L388.8,146.8 L389.9,145.9 L390.7,144.6 L390.8,143.9 L391.2,142.3 L392.4,142.0 L393.2,140.5 L394.0,140.9 L394.8,142.0 L395.3,144.4 L395.5,145.2 L397.5,144.5 L398.0,146.3 L398.8,147.4 L399.6,149.2 L400.0,149.0 L401.6,147.2 L401.9,149.3 L403.6,149.9 L403.9,148.1 L405.0,148.4 L406.2,146.1 L406.3,145.2 L406.7,143.1 L407.7,142.2 L408.0,141.1 L408.3,139.1 L408.3,137.5 L409.2,135.8 L409.2,135.5 L409.0,133.2 L409.3,132.5 L409.6,131.7 L409.6,129.0 L409.5,129.2 L409.8,126.4 L410.3,125.7 L411.0,124.8 L410.2,122.3 L410.6,121.1 L410.5,120.3 L410.7,118.6 L411.7,118.6 L412.2,115.5 L411.7,114.9 L411.7,115.4 L412.4,118.5 L412.0,119.3 L412.5,119.6 L412.4,121.5 L412.1,122.1 L412.0,124.0 L413.2,125.4 L412.9,127.4 L413.0,128.4 L413.1,130.0 L413.4,130.4 L413.7,132.3 L413.4,134.6 L413.9,135.3 L413.7,136.5 L413.4,137.7 L414.5,139.6 L414.3,141.0 L414.4,142.5 L414.2,143.4 L414.4,144.5 L414.8,145.5 L414.7,146.4 L415.3,149.1 L414.9,150.2 L415.4,151.1 L415.7,152.6 L416.6,154.2 L417.7,155.4 L417.7,155.5 Z" fill="#cbcbcb" stroke="none"/>
<path d="M381.4,154.9 L382.3,155.0 L383.6,152.8 L385.4,153.3 L386.7,152.6 L386.7,150.0 L387.8,149.8 L388.1,148.6 L388.8,146.8 L389.9,145.9 L390.7,144.6 L390.8,143.9 L391.2,142.3 L392.4,142.0 L393.2,140.5 L394.0,140.9 L394.8,142.0 L395.3,144.4 L395.5,145.2 L397.5,144.5 L398.0,146.3 L398.8,147.4 L399.6,149.2 L400.0,149.0 L401.6,147.2 L401.9,149.3 L403.6,149.9 L403.9,148.1 L405.0,148.4 L406.2,146.1 L406.3,145.2 L406.7,143.1 L407.7,142.2 L408.0,141.1 L408.3,139.1 L408.3,137.5 L409.2,135.8 L409.2,135.5 L409.0,133.2 L409.3,132.5 L409.6,131.7 L409.6,129.0 L409.5,129.2 L409.8,126.4 L410.3,125.7 L411.0,124.8 L410.2,122.3 L410.6,121.1 L410.5,120.3 L410.7,118.6 L411.7,118.6 L412.2,115.5 L411.7,114.9 L411.7,115.4 L412.4,118.5 L412.0,119.3 L412.5,119.6 L412.4,121.5 L412.1,122.1 L412.0,124.0 L413.2,125.4 L412.9,127.4 L413.0,128.4 L413.1,130.0 L413.4,130.4 L413.7,132.3 L413.4,134.6 L413.9,135.3 L413.7,136.5 L413.4,137.7 L414.5,139.6 L414.3,141.0 L414.4,142.5 L414.2,143.4 L414.4,144.5 L414.8,145.5 L414.7,146.4 L415.3,149.1 L414.9,150.2 L415.4,151.1 L415.7,152.6 L416.6,154.2 L417.7,155.4" fill="none" stroke="#555" stroke-width="0.8" stroke-linejoin="round"/>
<path d="M381.4,154.9 L382.3,155.0 L383.6,152.8 L385.4,153.3 L386.7,152.6 L386.7,150.0 L387.8,149.8 L388.1,148.6 L388.8,146.8 L389.9,145.9 L390.7,144.6 L390.8,143.9 L391.2,142.3 L392.4,142.0 L393.2,140.5 L394.0,140.9 L394.8,142.0 L395.3,144.4 L395.5,145.2 L397.5,144.5 L398.0,146.3 L398.8,147.4 L399.6,149.2 L400.0,149.0 L401.6,147.2 L401.9,149.3 L403.6,149.9 L403.9,148.1 L405.0,148.4 L406.2,146.1 L406.3,145.2 L406.7,143.1 L407.7,142.2 L408.0,141.1 L408.3,139.1 L408.3,137.5 L409.2,135.8 L409.2,135.5 L409.0,133.2 L409.3,132.5 L409.6,131.7 L409.6,129.0 L409.5,129.2 L409.8,126.4 L410.3,125.7 L411.0,124.8 L410.2,122.3 L410.6,121.1 L410.5,120.3 L410.7,118.6 L411.7,118.6 L412.2,115.5 L411.7,114.9 L411.7,115.4 L412.4,118.5 L412.0,119.3 L412.5,119.6 L412.4,121.5 L412.1,122.1 L412.0,124.0 L413.2,125.4 L412.9,127.4 L413.0,128.4 L413.1,130.0 L413.4,130.4 L413.7,132.3 L413.4,134.6 L413.9,135.3 L413.7,136.5 L413.4,137.7 L414.5,139.6 L414.3,141.0 L414.4,142.5 L414.2,143.4 L414.4,144.5 L414.8,145.5 L414.7,146.4 L415.3,149.1 L414.9,150.2 L415.4,151.1 L415.7,152.6 L416.6,154.2 L417.7,155.4" fill="none" stroke="#000" stroke-width="1.1" stroke-linejoin="round" stroke-dasharray="2.0 1.0"/>
<rect x="412.90" y="105.50" width="17.00" height="15.50" fill="#fff" stroke="#8a8a8a" stroke-width="0.7"/>
<text x="413.50" y="118.20" font-family="Liberation Serif, serif" font-weight="bold" font-size="14.8" textLength="15.90" lengthAdjust="spacingAndGlyphs" fill="#000" stroke="#000" stroke-width="0.35">2.4</text>
<rect x="417.90" y="131.70" width="23.20" height="15.50" fill="#fff" stroke="#8a8a8a" stroke-width="0.7"/>
<text x="418.50" y="144.40" font-family="Liberation Serif, serif" font-weight="bold" font-size="14.8" textLength="22.10" lengthAdjust="spacingAndGlyphs" fill="#000" stroke="#000" stroke-width="0.35">68.2</text>
<rect x="248.60" y="161.50" width="61.40" height="62.60" fill="#fff" stroke="#b2b2b2" stroke-width="0.9"/>
<line x1="247.00" y1="211.58" x2="248.60" y2="211.58" stroke="#8a8a8a" stroke-width="0.9"/>
<line x1="247.00" y1="199.06" x2="248.60" y2="199.06" stroke="#8a8a8a" stroke-width="0.9"/>
<line x1="247.00" y1="186.54" x2="248.60" y2="186.54" stroke="#8a8a8a" stroke-width="0.9"/>
<line x1="247.00" y1="174.02" x2="248.60" y2="174.02" stroke="#8a8a8a" stroke-width="0.9"/>
<line x1="263.95" y1="224.10" x2="263.95" y2="225.60" stroke="#b2b2b2" stroke-width="0.8"/>
<line x1="279.30" y1="224.10" x2="279.30" y2="225.60" stroke="#b2b2b2" stroke-width="0.8"/>
<line x1="294.65" y1="224.10" x2="294.65" y2="225.60" stroke="#b2b2b2" stroke-width="0.8"/>
<line x1="248.60" y1="171.00" x2="310.00" y2="171.00" stroke="#808080" stroke-width="0.9"/>
<line x1="263.50" y1="197.00" x2="310.00" y2="197.00" stroke="#808080" stroke-width="0.9"/>
<path d="M248.9,223.3 L248.9,217.9 L249.9,216.8 L250.0,214.3 L250.2,213.5 L250.4,212.4 L251.7,210.1 L251.4,208.5 L251.8,206.1 L252.5,204.8 L252.5,204.9 L252.8,202.5 L253.2,200.2 L253.8,199.5 L254.0,197.9 L254.1,196.4 L254.4,195.6 L255.3,193.3 L255.3,191.4 L255.3,190.5 L255.9,188.9 L256.5,186.9 L255.5,186.0 L256.4,184.9 L256.5,186.0 L256.7,187.0 L257.3,189.3 L257.2,191.0 L257.1,192.4 L258.1,193.8 L258.0,196.0 L258.3,198.3 L259.0,198.4 L258.8,200.4 L258.6,201.6 L259.7,202.5 L259.7,205.2 L259.8,206.0 L260.1,207.2 L260.9,208.1 L260.7,209.6 L260.8,211.2 L261.6,213.3 L261.2,214.0 L261.8,215.5 L261.6,216.9 L262.3,218.7 L262.8,219.3 L263.2,221.4 L263.9,221.8 L264.9,223.3 L264.9,223.3 Z" fill="#cbcbcb" stroke="none"/>
<path d="M248.9,217.9 L249.9,216.8 L250.0,214.3 L250.2,213.5 L250.4,212.4 L251.7,210.1 L251.4,208.5 L251.8,206.1 L252.5,204.8 L252.5,204.9 L252.8,202.5 L253.2,200.2 L253.8,199.5 L254.0,197.9 L254.1,196.4 L254.4,195.6 L255.3,193.3 L255.3,191.4 L255.3,190.5 L255.9,188.9 L256.5,186.9 L255.5,186.0 L256.4,184.9 L256.5,186.0 L256.7,187.0 L257.3,189.3 L257.2,191.0 L257.1,192.4 L258.1,193.8 L258.0,196.0 L258.3,198.3 L259.0,198.4 L258.8,200.4 L258.6,201.6 L259.7,202.5 L259.7,205.2 L259.8,206.0 L260.1,207.2 L260.9,208.1 L260.7,209.6 L260.8,211.2 L261.6,213.3 L261.2,214.0 L261.8,215.5 L261.6,216.9 L262.3,218.7 L262.8,219.3 L263.2,221.4 L263.9,221.8 L264.9,223.3" fill="none" stroke="#555" stroke-width="0.8" stroke-linejoin="round"/>
<path d="M248.9,217.9 L249.9,216.8 L250.0,214.3 L250.2,213.5 L250.4,212.4 L251.7,210.1 L251.4,208.5 L251.8,206.1 L252.5,204.8 L252.5,204.9 L252.8,202.5 L253.2,200.2 L253.8,199.5 L254.0,197.9 L254.1,196.4 L254.4,195.6 L255.3,193.3 L255.3,191.4 L255.3,190.5 L255.9,188.9 L256.5,186.9 L255.5,186.0 L256.4,184.9 L256.5,186.0 L256.7,187.0 L257.3,189.3 L257.2,191.0 L257.1,192.4 L258.1,193.8 L258.0,196.0 L258.3,198.3 L259.0,198.4 L258.8,200.4 L258.6,201.6 L259.7,202.5 L259.7,205.2 L259.8,206.0 L260.1,207.2 L260.9,208.1 L260.7,209.6 L260.8,211.2 L261.6,213.3 L261.2,214.0 L261.8,215.5 L261.6,216.9 L262.3,218.7 L262.8,219.3 L263.2,221.4 L263.9,221.8 L264.9,223.3" fill="none" stroke="#000" stroke-width="1.1" stroke-linejoin="round" stroke-dasharray="2.0 1.0"/>
<rect x="276.50" y="173.50" width="16.70" height="15.50" fill="#fff" stroke="#8a8a8a" stroke-width="0.7"/>
<text x="277.10" y="186.20" font-family="Liberation Serif, serif" font-weight="bold" font-size="14.8" textLength="15.60" lengthAdjust="spacingAndGlyphs" fill="#000" stroke="#000" stroke-width="0.35">0.3</text>
<rect x="287.20" y="199.30" width="16.40" height="15.70" fill="#fff" stroke="#8a8a8a" stroke-width="0.7"/>
<text x="287.80" y="212.20" font-family="Liberation Serif, serif" font-weight="bold" font-size="14.8" textLength="15.30" lengthAdjust="spacingAndGlyphs" fill="#000" stroke="#000" stroke-width="0.35">2.7</text>
<rect x="314.80" y="161.50" width="62.10" height="62.60" fill="#fff" stroke="#b2b2b2" stroke-width="0.9"/>
<line x1="313.20" y1="211.58" x2="314.80" y2="211.58" stroke="#8a8a8a" stroke-width="0.9"/>
<line x1="313.20" y1="199.06" x2="314.80" y2="199.06" stroke="#8a8a8a" stroke-width="0.9"/>
<line x1="313.20" y1="186.54" x2="314.80" y2="186.54" stroke="#8a8a8a" stroke-width="0.9"/>
<line x1="313.20" y1="174.02" x2="314.80" y2="174.02" stroke="#8a8a8a" stroke-width="0.9"/>
<line x1="330.32" y1="224.10" x2="330.32" y2="225.60" stroke="#b2b2b2" stroke-width="0.8"/>
<line x1="345.85" y1="224.10" x2="345.85" y2="225.60" stroke="#b2b2b2" stroke-width="0.8"/>
<line x1="361.38" y1="224.10" x2="361.38" y2="225.60" stroke="#b2b2b2" stroke-width="0.8"/>
<line x1="314.80" y1="171.00" x2="376.90" y2="171.00" stroke="#808080" stroke-width="0.9"/>
<line x1="330.20" y1="197.00" x2="376.90" y2="197.00" stroke="#808080" stroke-width="0.9"/>
<path d="M322.8,223.3 L322.8,223.3 L323.2,222.2 L324.8,220.3 L325.0,219.9 L326.2,219.3 L326.7,217.6 L327.5,216.6 L327.9,215.5 L328.2,214.4 L329.5,213.5 L329.5,211.2 L330.5,208.7 L331.0,208.9 L331.2,206.5 L332.2,204.2 L331.7,203.6 L332.9,201.8 L334.1,199.2 L333.7,198.9 L334.6,197.0 L334.6,194.6 L336.1,193.3 L336.2,192.3 L336.0,190.5 L337.2,190.2 L337.6,187.3 L337.4,186.5 L338.1,185.3 L338.5,184.0 L338.7,182.9 L338.5,180.9 L339.0,182.0 L339.3,184.4 L339.2,186.0 L340.0,187.5 L339.3,189.4 L339.9,191.0 L339.6,191.8 L339.6,193.7 L339.9,195.1 L340.6,196.5 L340.7,197.8 L341.4,199.2 L341.5,199.5 L341.2,201.8 L341.5,203.3 L342.1,205.2 L341.8,206.2 L342.1,208.0 L341.7,210.4 L342.7,211.2 L342.9,211.5 L343.0,213.9 L343.9,215.5 L344.3,216.1 L343.9,217.7 L344.2,219.0 L343.9,221.3 L345.1,222.4 L345.3,223.3 L345.3,223.3 Z" fill="#cbcbcb" stroke="none"/>
<path d="M322.8,223.3 L323.2,222.2 L324.8,220.3 L325.0,219.9 L326.2,219.3 L326.7,217.6 L327.5,216.6 L327.9,215.5 L328.2,214.4 L329.5,213.5 L329.5,211.2 L330.5,208.7 L331.0,208.9 L331.2,206.5 L332.2,204.2 L331.7,203.6 L332.9,201.8 L334.1,199.2 L333.7,198.9 L334.6,197.0 L334.6,194.6 L336.1,193.3 L336.2,192.3 L336.0,190.5 L337.2,190.2 L337.6,187.3 L337.4,186.5 L338.1,185.3 L338.5,184.0 L338.7,182.9 L338.5,180.9 L339.0,182.0 L339.3,184.4 L339.2,186.0 L340.0,187.5 L339.3,189.4 L339.9,191.0 L339.6,191.8 L339.6,193.7 L339.9,195.1 L340.6,196.5 L340.7,197.8 L341.4,199.2 L341.5,199.5 L341.2,201.8 L341.5,203.3 L342.1,205.2 L341.8,206.2 L342.1,208.0 L341.7,210.4 L342.7,211.2 L342.9,211.5 L343.0,213.9 L343.9,215.5 L344.3,216.1 L343.9,217.7 L344.2,219.0 L343.9,221.3 L345.1,222.4 L345.3,223.3" fill="none" stroke="#555" stroke-width="0.8" stroke-linejoin="round"/>
<path d="M322.8,223.3 L323.2,222.2 L324.8,220.3 L325.0,219.9 L326.2,219.3 L326.7,217.6 L327.5,216.6 L327.9,215.5 L328.2,214.4 L329.5,213.5 L329.5,211.2 L330.5,208.7 L331.0,208.9 L331.2,206.5 L332.2,204.2 L331.7,203.6 L332.9,201.8 L334.1,199.2 L333.7,198.9 L334.6,197.0 L334.6,194.6 L336.1,193.3 L336.2,192.3 L336.0,190.5 L337.2,190.2 L337.6,187.3 L337.4,186.5 L338.1,185.3 L338.5,184.0 L338.7,182.9 L338.5,180.9 L339.0,182.0 L339.3,184.4 L339.2,186.0 L340.0,187.5 L339.3,189.4 L339.9,191.0 L339.6,191.8 L339.6,193.7 L339.9,195.1 L340.6,196.5 L340.7,197.8 L341.4,199.2 L341.5,199.5 L341.2,201.8 L341.5,203.3 L342.1,205.2 L341.8,206.2 L342.1,208.0 L341.7,210.4 L342.7,211.2 L342.9,211.5 L343.0,213.9 L343.9,215.5 L344.3,216.1 L343.9,217.7 L344.2,219.0 L343.9,221.3 L345.1,222.4 L345.3,223.3" fill="none" stroke="#000" stroke-width="1.1" stroke-linejoin="round" stroke-dasharray="2.0 1.0"/>
<rect x="345.20" y="173.50" width="16.30" height="15.50" fill="#fff" stroke="#8a8a8a" stroke-width="0.7"/>
<text x="345.80" y="186.20" font-family="Liberation Serif, serif" font-weight="bold" font-size="14.8" textLength="15.20" lengthAdjust="spacingAndGlyphs" fill="#000" stroke="#000" stroke-width="0.35">2.3</text>
<rect x="353.00" y="199.30" width="23.70" height="15.70" fill="#fff" stroke="#8a8a8a" stroke-width="0.7"/>
<text x="353.60" y="212.20" font-family="Liberation Serif, serif" font-weight="bold" font-size="14.8" textLength="22.60" lengthAdjust="spacingAndGlyphs" fill="#000" stroke="#000" stroke-width="0.35">85.5</text>
<rect x="381.00" y="161.50" width="62.50" height="62.60" fill="#fff" stroke="#b2b2b2" stroke-width="0.9"/>
<line x1="379.40" y1="211.58" x2="381.00" y2="211.58" stroke="#8a8a8a" stroke-width="0.9"/>
<line x1="379.40" y1="199.06" x2="381.00" y2="199.06" stroke="#8a8a8a" stroke-width="0.9"/>
<line x1="379.40" y1="186.54" x2="381.00" y2="186.54" stroke="#8a8a8a" stroke-width="0.9"/>
<line x1="379.40" y1="174.02" x2="381.00" y2="174.02" stroke="#8a8a8a" stroke-width="0.9"/>
<line x1="396.62" y1="224.10" x2="396.62" y2="225.60" stroke="#b2b2b2" stroke-width="0.8"/>
<line x1="412.25" y1="224.10" x2="412.25" y2="225.60" stroke="#b2b2b2" stroke-width="0.8"/>
<line x1="427.88" y1="224.10" x2="427.88" y2="225.60" stroke="#b2b2b2" stroke-width="0.8"/>
<line x1="381.00" y1="171.00" x2="443.50" y2="171.00" stroke="#808080" stroke-width="0.9"/>
<line x1="396.20" y1="197.00" x2="443.50" y2="197.00" stroke="#808080" stroke-width="0.9"/>
<path d="M391.5,223.3 L391.5,222.9 L392.7,221.4 L392.8,220.2 L393.5,219.3 L395.2,219.7 L396.1,219.4 L397.5,220.3 L398.9,219.7 L399.9,220.1 L401.6,219.0 L402.8,218.8 L404.3,217.2 L404.6,215.6 L406.3,214.1 L406.3,212.5 L406.9,211.4 L406.4,209.4 L406.9,208.0 L407.0,207.0 L407.5,206.0 L407.6,203.5 L407.5,203.9 L407.6,201.8 L407.5,199.5 L407.4,198.1 L408.2,198.6 L408.6,196.7 L408.3,195.0 L408.6,194.5 L408.8,192.6 L408.9,191.4 L408.5,190.0 L409.0,188.3 L409.1,187.2 L408.7,185.9 L408.7,183.2 L410.1,183.0 L409.5,181.3 L410.2,180.1 L409.9,178.0 L409.7,176.8 L410.0,175.0 L410.1,173.7 L411.0,173.0 L410.6,170.5 L410.1,169.2 L410.7,168.8 L410.9,170.7 L410.8,172.3 L410.8,171.8 L411.7,174.2 L411.2,176.3 L410.7,176.5 L411.4,178.0 L411.1,179.8 L411.0,180.3 L412.0,181.5 L412.5,183.2 L412.5,184.7 L412.1,187.0 L411.5,187.8 L412.0,190.4 L412.0,192.0 L413.0,192.1 L413.2,194.9 L412.8,196.0 L412.3,197.9 L413.3,199.1 L413.7,200.2 L413.9,201.2 L412.6,203.5 L413.4,204.5 L413.8,204.8 L413.1,207.7 L414.2,208.0 L414.5,209.0 L414.2,211.0 L413.8,212.4 L414.7,213.5 L415.0,215.1 L415.0,216.6 L415.8,217.2 L416.1,218.9 L416.3,220.5 L416.9,222.2 L417.7,223.3 L417.7,223.3 Z" fill="#cbcbcb" stroke="none"/>
<path d="M391.5,222.9 L392.7,221.4 L392.8,220.2 L393.5,219.3 L395.2,219.7 L396.1,219.4 L397.5,220.3 L398.9,219.7 L399.9,220.1 L401.6,219.0 L402.8,218.8 L404.3,217.2 L404.6,215.6 L406.3,214.1 L406.3,212.5 L406.9,211.4 L406.4,209.4 L406.9,208.0 L407.0,207.0 L407.5,206.0 L407.6,203.5 L407.5,203.9 L407.6,201.8 L407.5,199.5 L407.4,198.1 L408.2,198.6 L408.6,196.7 L408.3,195.0 L408.6,194.5 L408.8,192.6 L408.9,191.4 L408.5,190.0 L409.0,188.3 L409.1,187.2 L408.7,185.9 L408.7,183.2 L410.1,183.0 L409.5,181.3 L410.2,180.1 L409.9,178.0 L409.7,176.8 L410.0,175.0 L410.1,173.7 L411.0,173.0 L410.6,170.5 L410.1,169.2 L410.7,168.8 L410.9,170.7 L410.8,172.3 L410.8,171.8 L411.7,174.2 L411.2,176.3 L410.7,176.5 L411.4,178.0 L411.1,179.8 L411.0,180.3 L412.0,181.5 L412.5,183.2 L412.5,184.7 L412.1,187.0 L411.5,187.8 L412.0,190.4 L412.0,192.0 L413.0,192.1 L413.2,194.9 L412.8,196.0 L412.3,197.9 L413.3,199.1 L413.7,200.2 L413.9,201.2 L412.6,203.5 L413.4,204.5 L413.8,204.8 L413.1,207.7 L414.2,208.0 L414.5,209.0 L414.2,211.0 L413.8,212.4 L414.7,213.5 L415.0,215.1 L415.0,216.6 L415.8,217.2 L416.1,218.9 L416.3,220.5 L416.9,222.2 L417.7,223.3" fill="none" stroke="#555" stroke-width="0.8" stroke-linejoin="round"/>
<path d="M391.5,222.9 L392.7,221.4 L392.8,220.2 L393.5,219.3 L395.2,219.7 L396.1,219.4 L397.5,220.3 L398.9,219.7 L399.9,220.1 L401.6,219.0 L402.8,218.8 L404.3,217.2 L404.6,215.6 L406.3,214.1 L406.3,212.5 L406.9,211.4 L406.4,209.4 L406.9,208.0 L407.0,207.0 L407.5,206.0 L407.6,203.5 L407.5,203.9 L407.6,201.8 L407.5,199.5 L407.4,198.1 L408.2,198.6 L408.6,196.7 L408.3,195.0 L408.6,194.5 L408.8,192.6 L408.9,191.4 L408.5,190.0 L409.0,188.3 L409.1,187.2 L408.7,185.9 L408.7,183.2 L410.1,183.0 L409.5,181.3 L410.2,180.1 L409.9,178.0 L409.7,176.8 L410.0,175.0 L410.1,173.7 L411.0,173.0 L410.6,170.5 L410.1,169.2 L410.7,168.8 L410.9,170.7 L410.8,172.3 L410.8,171.8 L411.7,174.2 L411.2,176.3 L410.7,176.5 L411.4,178.0 L411.1,179.8 L411.0,180.3 L412.0,181.5 L412.5,183.2 L412.5,184.7 L412.1,187.0 L411.5,187.8 L412.0,190.4 L412.0,192.0 L413.0,192.1 L413.2,194.9 L412.8,196.0 L412.3,197.9 L413.3,199.1 L413.7,200.2 L413.9,201.2 L412.6,203.5 L413.4,204.5 L413.8,204.8 L413.1,207.7 L414.2,208.0 L414.5,209.0 L414.2,211.0 L413.8,212.4 L414.7,213.5 L415.0,215.1 L415.0,216.6 L415.8,217.2 L416.1,218.9 L416.3,220.5 L416.9,222.2 L417.7,223.3" fill="none" stroke="#000" stroke-width="1.1" stroke-linejoin="round" stroke-dasharray="2.0 1.0"/>
<rect x="415.20" y="172.80" width="15.80" height="15.50" fill="#fff" stroke="#8a8a8a" stroke-width="0.7"/>
<text x="415.80" y="185.50" font-family="Liberation Serif, serif" font-weight="bold" font-size="14.8" textLength="14.70" lengthAdjust="spacingAndGlyphs" fill="#000" stroke="#000" stroke-width="0.35">5.1</text>
<rect x="419.20" y="199.10" width="22.90" height="15.90" fill="#fff" stroke="#8a8a8a" stroke-width="0.7"/>
<text x="419.80" y="212.20" font-family="Liberation Serif, serif" font-weight="bold" font-size="14.8" textLength="21.80" lengthAdjust="spacingAndGlyphs" fill="#000" stroke="#000" stroke-width="0.35">91.5</text>
<text x="455.10" y="64.70" font-family="Liberation Serif, serif" font-weight="bold" font-size="16.5" textLength="53.70" lengthAdjust="spacingAndGlyphs" fill="#000" >Control</text>
<text x="455.40" y="133.20" font-family="Liberation Serif, serif" font-weight="bold" font-size="16.5" textLength="47.50" lengthAdjust="spacingAndGlyphs" fill="#000" >TNF-<tspan font-weight="normal">α</tspan></text>
<text x="453.40" y="195.70" font-family="Liberation Serif, serif" font-weight="bold" font-size="16" textLength="61.30" lengthAdjust="spacingAndGlyphs" fill="#000" >PD98059</text>
<text x="455.20" y="215.20" font-family="Liberation Serif, serif" font-weight="bold" font-size="16" textLength="57.20" lengthAdjust="spacingAndGlyphs" fill="#000" >+TNF-<tspan font-weight="normal">α</tspan></text>
<text x="452.30" y="264.60" font-family="Liberation Serif, serif" font-weight="bold" font-size="16" textLength="66.80" lengthAdjust="spacingAndGlyphs" fill="#000" >SB203580</text>
<text x="457.40" y="283.80" font-family="Liberation Serif, serif" font-weight="bold" font-size="16" textLength="56.20" lengthAdjust="spacingAndGlyphs" fill="#000" >+TNF-<tspan font-weight="normal">α</tspan></text>
<text x="64.20" y="313.60" font-family="Liberation Serif, serif" font-weight="bold" font-size="18.3" textLength="143.70" lengthAdjust="spacingAndGlyphs" fill="#000" stroke="#000" stroke-width="0.25">log<tspan font-size="13" dy="-7.6">10</tspan><tspan dy="7.6"> fluorescence</tspan></text>
<text x="283.00" y="245.20" font-family="Liberation Serif, serif" font-weight="bold" font-size="18.3" textLength="143.00" lengthAdjust="spacingAndGlyphs" fill="#000" stroke="#000" stroke-width="0.25">log<tspan font-size="13" dy="-7.6">10</tspan><tspan dy="7.6"> fluorescence</tspan></text>
<line x1="34" y1="324.3" x2="237.6" y2="324.3" stroke="#111" stroke-width="1.7"/>
<line x1="248.8" y1="324.3" x2="451.4" y2="324.3" stroke="#111" stroke-width="1.7"/>
<text x="107.30" y="357.60" font-family="Liberation Serif, serif" font-weight="bold" font-size="21.5" textLength="83.10" lengthAdjust="spacingAndGlyphs" fill="#000" stroke="#000" stroke-width="0.25">24 hours</text>
<text x="309.00" y="357.60" font-family="Liberation Serif, serif" font-weight="bold" font-size="21.5" textLength="83.00" lengthAdjust="spacingAndGlyphs" fill="#000" stroke="#000" stroke-width="0.25">48 hours</text>
<text x="1.50" y="389.70" font-family="Liberation Sans, sans-serif" font-weight="bold" font-size="16.8" textLength="10.80" lengthAdjust="spacingAndGlyphs" fill="#000" >B</text>
<rect x="60.7" y="401.0" width="198.10000000000002" height="203.10000000000002" fill="#fff" stroke="#1c1c1c" stroke-width="1.7"/>
<line x1="56.900000000000006" y1="604.10" x2="60.7" y2="604.10" stroke="#111" stroke-width="1.2"/>
<text x="44.95" y="609.20" font-family="Liberation Sans, sans-serif" font-weight="bold" font-size="12.4" textLength="7.05" lengthAdjust="spacingAndGlyphs" fill="#000" stroke="#000" stroke-width="0.2">0</text>
<line x1="56.900000000000006" y1="583.79" x2="60.7" y2="583.79" stroke="#111" stroke-width="1.2"/>
<text x="32.65" y="588.89" font-family="Liberation Sans, sans-serif" font-weight="bold" font-size="12.4" textLength="21.15" lengthAdjust="spacingAndGlyphs" fill="#000" stroke="#000" stroke-width="0.2">100</text>
<line x1="56.900000000000006" y1="563.48" x2="60.7" y2="563.48" stroke="#111" stroke-width="1.2"/>
<text x="32.65" y="568.58" font-family="Liberation Sans, sans-serif" font-weight="bold" font-size="12.4" textLength="21.15" lengthAdjust="spacingAndGlyphs" fill="#000" stroke="#000" stroke-width="0.2">200</text>
<line x1="56.900000000000006" y1="543.17" x2="60.7" y2="543.17" stroke="#111" stroke-width="1.2"/>
<text x="32.65" y="548.27" font-family="Liberation Sans, sans-serif" font-weight="bold" font-size="12.4" textLength="21.15" lengthAdjust="spacingAndGlyphs" fill="#000" stroke="#000" stroke-width="0.2">300</text>
<line x1="56.900000000000006" y1="522.86" x2="60.7" y2="522.86" stroke="#111" stroke-width="1.2"/>
<text x="32.65" y="527.96" font-family="Liberation Sans, sans-serif" font-weight="bold" font-size="12.4" textLength="21.15" lengthAdjust="spacingAndGlyphs" fill="#000" stroke="#000" stroke-width="0.2">400</text>
<line x1="56.900000000000006" y1="502.55" x2="60.7" y2="502.55" stroke="#111" stroke-width="1.2"/>
<text x="32.65" y="507.65" font-family="Liberation Sans, sans-serif" font-weight="bold" font-size="12.4" textLength="21.15" lengthAdjust="spacingAndGlyphs" fill="#000" stroke="#000" stroke-width="0.2">500</text>
<line x1="56.900000000000006" y1="482.24" x2="60.7" y2="482.24" stroke="#111" stroke-width="1.2"/>
<text x="32.65" y="487.34" font-family="Liberation Sans, sans-serif" font-weight="bold" font-size="12.4" textLength="21.15" lengthAdjust="spacingAndGlyphs" fill="#000" stroke="#000" stroke-width="0.2">600</text>
<line x1="56.900000000000006" y1="461.93" x2="60.7" y2="461.93" stroke="#111" stroke-width="1.2"/>
<text x="32.65" y="467.03" font-family="Liberation Sans, sans-serif" font-weight="bold" font-size="12.4" textLength="21.15" lengthAdjust="spacingAndGlyphs" fill="#000" stroke="#000" stroke-width="0.2">700</text>
<line x1="56.900000000000006" y1="441.62" x2="60.7" y2="441.62" stroke="#111" stroke-width="1.2"/>
<text x="32.65" y="446.72" font-family="Liberation Sans, sans-serif" font-weight="bold" font-size="12.4" textLength="21.15" lengthAdjust="spacingAndGlyphs" fill="#000" stroke="#000" stroke-width="0.2">800</text>
<line x1="56.900000000000006" y1="421.31" x2="60.7" y2="421.31" stroke="#111" stroke-width="1.2"/>
<text x="32.65" y="426.41" font-family="Liberation Sans, sans-serif" font-weight="bold" font-size="12.4" textLength="21.15" lengthAdjust="spacingAndGlyphs" fill="#000" stroke="#000" stroke-width="0.2">900</text>
<line x1="56.900000000000006" y1="401.00" x2="60.7" y2="401.00" stroke="#111" stroke-width="1.2"/>
<text x="25.60" y="406.10" font-family="Liberation Sans, sans-serif" font-weight="bold" font-size="12.4" textLength="28.20" lengthAdjust="spacingAndGlyphs" fill="#000" stroke="#000" stroke-width="0.2">1000</text>
<rect x="81.25" y="596.59" width="12.00" height="7.51" fill="#ffffff" stroke="#111" stroke-width="1.4"/>
<rect x="93.25" y="532.81" width="11.85" height="71.29" fill="#323232" stroke="#111" stroke-width="1.4"/>
<rect x="105.10" y="603.08" width="12.00" height="1.02" fill="url(#hz)" stroke="#111" stroke-width="1.4"/>
<rect x="135.50" y="594.55" width="12.00" height="9.55" fill="#c6c6c6" stroke="#111" stroke-width="1.4"/>
<rect x="147.50" y="559.01" width="11.90" height="45.09" fill="#ffffff" stroke="#111" stroke-width="1.4"/>
<rect x="159.40" y="511.49" width="11.50" height="92.61" fill="#323232" stroke="#111" stroke-width="1.4"/>
<rect x="170.90" y="580.34" width="12.10" height="23.76" fill="url(#hz)" stroke="#111" stroke-width="1.4"/>
<rect x="201.25" y="598.21" width="12.00" height="5.89" fill="#c6c6c6" stroke="#111" stroke-width="1.4"/>
<rect x="213.25" y="574.04" width="11.75" height="30.06" fill="#ffffff" stroke="#111" stroke-width="1.4"/>
<rect x="225.00" y="428.42" width="12.00" height="175.68" fill="#323232" stroke="#111" stroke-width="1.4"/>
<rect x="237.00" y="589.88" width="11.75" height="14.22" fill="url(#hz)" stroke="#111" stroke-width="1.4"/>
<line x1="60.7" y1="401.0" x2="60.7" y2="604.1" stroke="#111" stroke-width="1.9"/>
<line x1="60.7" y1="604.1" x2="258.8" y2="604.1" stroke="#111" stroke-width="1.9"/>
<line x1="60.5" y1="604.1" x2="60.5" y2="608.1" stroke="#111" stroke-width="1.2"/>
<line x1="126.75" y1="604.1" x2="126.75" y2="608.1" stroke="#111" stroke-width="1.2"/>
<line x1="193" y1="604.1" x2="193" y2="608.1" stroke="#111" stroke-width="1.2"/>
<line x1="252.3" y1="604.1" x2="252.3" y2="608.1" stroke="#111" stroke-width="1.2"/>
<text x="78.00" y="624.60" font-family="Liberation Sans, sans-serif" font-weight="bold" font-size="14.4" textLength="36.50" lengthAdjust="spacingAndGlyphs" fill="#000" >CD83</text>
<text x="141.30" y="624.60" font-family="Liberation Sans, sans-serif" font-weight="bold" font-size="14.4" textLength="45.00" lengthAdjust="spacingAndGlyphs" fill="#000" >CD49d</text>
<text x="211.00" y="624.60" font-family="Liberation Sans, sans-serif" font-weight="bold" font-size="14.4" textLength="35.30" lengthAdjust="spacingAndGlyphs" fill="#000" >CD86</text>
<g transform="translate(16,558.1) rotate(-90)">
<text x="0.00" y="0.00" font-family="Liberation Sans, sans-serif" font-weight="bold" font-size="12.4" textLength="105.00" lengthAdjust="spacingAndGlyphs" fill="#000" >Expression Index</text>
</g>
<rect x="80.55" y="416.15" width="12.1" height="11.3" fill="#c6c6c6" stroke="#111" stroke-width="1.5"/>
<text x="99.20" y="426.70" font-family="Liberation Sans, sans-serif" font-weight="bold" font-size="14.4" textLength="51.10" lengthAdjust="spacingAndGlyphs" fill="#000" >Control</text>
<rect x="80.55" y="435.65" width="12.1" height="11.3" fill="#ffffff" stroke="#111" stroke-width="1.5"/>
<text x="99.20" y="446.20" font-family="Liberation Sans, sans-serif" font-weight="bold" font-size="14.4" textLength="41.90" lengthAdjust="spacingAndGlyphs" fill="#000" >TNF-<tspan font-weight="normal" font-family="Liberation Serif, serif" font-size="16.5">α</tspan></text>
<rect x="80.55" y="455.05" width="12.1" height="11.3" fill="#323232" stroke="#111" stroke-width="1.5"/>
<text x="99.20" y="465.60" font-family="Liberation Sans, sans-serif" font-weight="bold" font-size="14.4" textLength="78.10" lengthAdjust="spacingAndGlyphs" fill="#000" >PD + TNF-<tspan font-weight="normal" font-family="Liberation Serif, serif" font-size="16.5">α</tspan></text>
<rect x="80.55" y="474.45" width="12.1" height="11.3" fill="url(#hz)" stroke="#111" stroke-width="1.5"/>
<text x="99.20" y="485.00" font-family="Liberation Sans, sans-serif" font-weight="bold" font-size="14.4" textLength="78.10" lengthAdjust="spacingAndGlyphs" fill="#000" >SB + TNF-<tspan font-weight="normal" font-family="Liberation Serif, serif" font-size="16.5">α</tspan></text>
<text x="285.30" y="389.60" font-family="Liberation Sans, sans-serif" font-weight="bold" font-size="16.8" textLength="11.20" lengthAdjust="spacingAndGlyphs" fill="#000" >C</text>
<rect x="321.1" y="400.9" width="193.10000000000002" height="203.30000000000007" fill="#fff" stroke="#1c1c1c" stroke-width="1.7"/>
<line x1="317.3" y1="604.20" x2="321.1" y2="604.20" stroke="#111" stroke-width="1.2"/>
<text x="309.60" y="609.20" font-family="Liberation Sans, sans-serif" font-weight="bold" font-size="12.4" textLength="7.10" lengthAdjust="spacingAndGlyphs" fill="#000" stroke="#000" stroke-width="0.2">0</text>
<line x1="317.3" y1="581.61" x2="321.1" y2="581.61" stroke="#111" stroke-width="1.2"/>
<text x="293.90" y="586.61" font-family="Liberation Sans, sans-serif" font-weight="bold" font-size="12.4" textLength="21.30" lengthAdjust="spacingAndGlyphs" fill="#000" stroke="#000" stroke-width="0.2">500</text>
<line x1="317.3" y1="559.02" x2="321.1" y2="559.02" stroke="#111" stroke-width="1.2"/>
<text x="286.80" y="564.02" font-family="Liberation Sans, sans-serif" font-weight="bold" font-size="12.4" textLength="28.40" lengthAdjust="spacingAndGlyphs" fill="#000" stroke="#000" stroke-width="0.2">1000</text>
<line x1="317.3" y1="536.43" x2="321.1" y2="536.43" stroke="#111" stroke-width="1.2"/>
<text x="286.80" y="541.43" font-family="Liberation Sans, sans-serif" font-weight="bold" font-size="12.4" textLength="28.40" lengthAdjust="spacingAndGlyphs" fill="#000" stroke="#000" stroke-width="0.2">1500</text>
<line x1="317.3" y1="513.84" x2="321.1" y2="513.84" stroke="#111" stroke-width="1.2"/>
<text x="286.80" y="518.84" font-family="Liberation Sans, sans-serif" font-weight="bold" font-size="12.4" textLength="28.40" lengthAdjust="spacingAndGlyphs" fill="#000" stroke="#000" stroke-width="0.2">2000</text>
<line x1="317.3" y1="491.26" x2="321.1" y2="491.26" stroke="#111" stroke-width="1.2"/>
<text x="286.80" y="496.26" font-family="Liberation Sans, sans-serif" font-weight="bold" font-size="12.4" textLength="28.40" lengthAdjust="spacingAndGlyphs" fill="#000" stroke="#000" stroke-width="0.2">2500</text>
<line x1="317.3" y1="468.67" x2="321.1" y2="468.67" stroke="#111" stroke-width="1.2"/>
<text x="286.80" y="473.67" font-family="Liberation Sans, sans-serif" font-weight="bold" font-size="12.4" textLength="28.40" lengthAdjust="spacingAndGlyphs" fill="#000" stroke="#000" stroke-width="0.2">3000</text>
<line x1="317.3" y1="446.08" x2="321.1" y2="446.08" stroke="#111" stroke-width="1.2"/>
<text x="286.80" y="451.08" font-family="Liberation Sans, sans-serif" font-weight="bold" font-size="12.4" textLength="28.40" lengthAdjust="spacingAndGlyphs" fill="#000" stroke="#000" stroke-width="0.2">3500</text>
<line x1="317.3" y1="423.49" x2="321.1" y2="423.49" stroke="#111" stroke-width="1.2"/>
<text x="286.80" y="428.49" font-family="Liberation Sans, sans-serif" font-weight="bold" font-size="12.4" textLength="28.40" lengthAdjust="spacingAndGlyphs" fill="#000" stroke="#000" stroke-width="0.2">4000</text>
<line x1="317.3" y1="400.90" x2="321.1" y2="400.90" stroke="#111" stroke-width="1.2"/>
<text x="286.80" y="405.90" font-family="Liberation Sans, sans-serif" font-weight="bold" font-size="12.4" textLength="28.40" lengthAdjust="spacingAndGlyphs" fill="#000" stroke="#000" stroke-width="0.2">4500</text>
<rect x="328.75" y="571.25" width="12.00" height="32.95" fill="#c6c6c6" stroke="#111" stroke-width="1.4"/>
<rect x="340.75" y="556.25" width="12.25" height="47.95" fill="#ffffff" stroke="#111" stroke-width="1.4"/>
<rect x="353.00" y="523.00" width="12.00" height="81.20" fill="#323232" stroke="#111" stroke-width="1.4"/>
<rect x="365.00" y="576.25" width="11.75" height="27.95" fill="url(#hz)" stroke="#111" stroke-width="1.4"/>
<rect x="393.75" y="518.75" width="11.25" height="85.45" fill="#c6c6c6" stroke="#111" stroke-width="1.4"/>
<rect x="405.00" y="414.50" width="11.75" height="189.70" fill="#ffffff" stroke="#111" stroke-width="1.4"/>
<rect x="416.75" y="450.00" width="11.25" height="154.20" fill="#323232" stroke="#111" stroke-width="1.4"/>
<rect x="428.00" y="444.25" width="11.70" height="159.95" fill="url(#hz)" stroke="#111" stroke-width="1.4"/>
<rect x="456.50" y="493.25" width="11.80" height="110.95" fill="#c6c6c6" stroke="#111" stroke-width="1.4"/>
<rect x="468.30" y="478.75" width="13.00" height="125.45" fill="#ffffff" stroke="#111" stroke-width="1.4"/>
<rect x="481.30" y="499.25" width="11.40" height="104.95" fill="#323232" stroke="#111" stroke-width="1.4"/>
<rect x="492.70" y="441.25" width="12.30" height="162.95" fill="url(#hz)" stroke="#111" stroke-width="1.4"/>
<line x1="321.1" y1="400.9" x2="321.1" y2="604.2" stroke="#111" stroke-width="1.9"/>
<line x1="321.1" y1="604.2" x2="514.2" y2="604.2" stroke="#111" stroke-width="1.9"/>
<line x1="320.75" y1="604.2" x2="320.75" y2="608.2" stroke="#111" stroke-width="1.2"/>
<line x1="386.25" y1="604.2" x2="386.25" y2="608.2" stroke="#111" stroke-width="1.2"/>
<line x1="449.2" y1="604.2" x2="449.2" y2="608.2" stroke="#111" stroke-width="1.2"/>
<line x1="514.0" y1="604.2" x2="514.0" y2="608.2" stroke="#111" stroke-width="1.2"/>
<text x="338.80" y="624.60" font-family="Liberation Sans, sans-serif" font-weight="bold" font-size="14.4" textLength="43.70" lengthAdjust="spacingAndGlyphs" fill="#000" >MHC II</text>
<text x="408.00" y="624.60" font-family="Liberation Sans, sans-serif" font-weight="bold" font-size="14.4" textLength="35.80" lengthAdjust="spacingAndGlyphs" fill="#000" >CD40</text>
<text x="466.20" y="624.60" font-family="Liberation Sans, sans-serif" font-weight="bold" font-size="14.4" textLength="44.60" lengthAdjust="spacingAndGlyphs" fill="#000" >CD11c</text>
</svg>
</body></html>
